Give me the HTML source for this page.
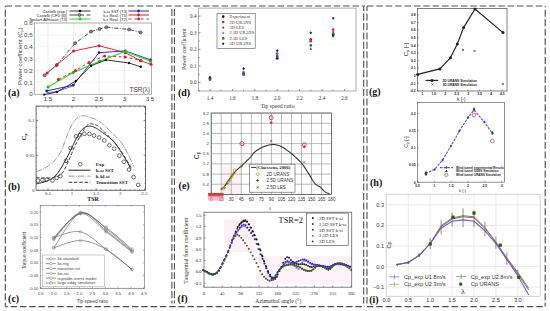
<!DOCTYPE html>
<html><head><meta charset="utf-8"><style>
html,body{margin:0;padding:0;background:#fff;}
body{width:550px;height:311px;overflow:hidden;}
svg{display:block;}
</style></head><body>
<svg width="550" height="311" viewBox="0 0 550 311">
<rect x="0" y="0" width="550" height="311" fill="#fff"/>
<line x1="5.3" y1="6" x2="172.0" y2="6" stroke="#505050" stroke-width="1.15" stroke-dasharray="6.5 2.9" stroke-dashoffset="9.20"/>
<line x1="172.0" y1="6" x2="365.0" y2="6" stroke="#505050" stroke-width="1.15" stroke-dasharray="6.5 2.85" stroke-dashoffset="6.55"/>
<line x1="365.0" y1="6" x2="545.2" y2="6" stroke="#505050" stroke-width="1.15" stroke-dasharray="6.5 2.88" stroke-dashoffset="7.38"/>
<line x1="5.3" y1="306.6" x2="176.0" y2="306.6" stroke="#505050" stroke-width="1.15" stroke-dasharray="6.5 2.83" stroke-dashoffset="4.03"/>
<line x1="176.0" y1="306.6" x2="365.0" y2="306.6" stroke="#505050" stroke-width="1.15" stroke-dasharray="6.5 2.83" stroke-dashoffset="7.13"/>
<line x1="365.0" y1="306.6" x2="545.2" y2="306.6" stroke="#505050" stroke-width="1.15" stroke-dasharray="6.5 2.91" stroke-dashoffset="7.51"/>
<line x1="5.3" y1="6" x2="5.3" y2="306.6" stroke="#505050" stroke-width="1.15" stroke-dasharray="7 2.45" stroke-dashoffset="5.65"/>
<line x1="545.2" y1="6" x2="545.2" y2="306.6" stroke="#505050" stroke-width="1.15" stroke-dasharray="7 2.45" stroke-dashoffset="5.65"/>
<line x1="171.9" y1="8.4" x2="171.9" y2="303.6" stroke="#505050" stroke-width="1.1" stroke-dasharray="6.8 2.6" stroke-dashoffset="8.70"/>
<line x1="174.4" y1="8.4" x2="174.4" y2="303.6" stroke="#505050" stroke-width="1.1" stroke-dasharray="6.8 2.6" stroke-dashoffset="8.70"/>
<line x1="363.7" y1="6.5" x2="363.7" y2="303.6" stroke="#505050" stroke-width="1.1" stroke-dasharray="7 2.45" stroke-dashoffset="2.45"/>
<line x1="367.0" y1="6" x2="367.0" y2="303.6" stroke="#505050" stroke-width="1.1" stroke-dasharray="7 2.45" stroke-dashoffset="1.95"/>
<line x1="48.00" y1="23.00" x2="48.00" y2="94.30" stroke="#e6e6e6" stroke-width="0.7" />
<line x1="73.50" y1="23.00" x2="73.50" y2="94.30" stroke="#e6e6e6" stroke-width="0.7" />
<line x1="99.00" y1="23.00" x2="99.00" y2="94.30" stroke="#e6e6e6" stroke-width="0.7" />
<line x1="124.50" y1="23.00" x2="124.50" y2="94.30" stroke="#e6e6e6" stroke-width="0.7" />
<line x1="34.30" y1="82.35" x2="151.40" y2="82.35" stroke="#efefef" stroke-width="0.7" />
<line x1="34.30" y1="70.50" x2="151.40" y2="70.50" stroke="#efefef" stroke-width="0.7" />
<line x1="34.30" y1="58.65" x2="151.40" y2="58.65" stroke="#efefef" stroke-width="0.7" />
<line x1="34.30" y1="46.80" x2="151.40" y2="46.80" stroke="#efefef" stroke-width="0.7" />
<line x1="34.30" y1="34.95" x2="151.40" y2="34.95" stroke="#efefef" stroke-width="0.7" />
<rect x="34.30" y="23.00" width="117.10" height="71.30" stroke="#9a9a9a" stroke-width="0.8" fill="none" />
<text x="32.60" y="96.40" font-size="6.2" fill="#444" text-anchor="end" font-family='"Liberation Sans", sans-serif' font-weight="normal" >0</text>
<text x="32.60" y="84.55" font-size="6.2" fill="#444" text-anchor="end" font-family='"Liberation Sans", sans-serif' font-weight="normal" >0.1</text>
<text x="32.60" y="72.70" font-size="6.2" fill="#444" text-anchor="end" font-family='"Liberation Sans", sans-serif' font-weight="normal" >0.2</text>
<text x="32.60" y="60.85" font-size="6.2" fill="#444" text-anchor="end" font-family='"Liberation Sans", sans-serif' font-weight="normal" >0.3</text>
<text x="32.60" y="49.00" font-size="6.2" fill="#444" text-anchor="end" font-family='"Liberation Sans", sans-serif' font-weight="normal" >0.4</text>
<text x="32.60" y="37.15" font-size="6.2" fill="#444" text-anchor="end" font-family='"Liberation Sans", sans-serif' font-weight="normal" >0.5</text>
<text x="32.60" y="25.30" font-size="6.2" fill="#444" text-anchor="end" font-family='"Liberation Sans", sans-serif' font-weight="normal" >0.6</text>
<text x="48.00" y="101.20" font-size="6.2" fill="#444" text-anchor="middle" font-family='"Liberation Sans", sans-serif' font-weight="normal" >1.5</text>
<text x="73.50" y="101.20" font-size="6.2" fill="#444" text-anchor="middle" font-family='"Liberation Sans", sans-serif' font-weight="normal" >2</text>
<text x="99.00" y="101.20" font-size="6.2" fill="#444" text-anchor="middle" font-family='"Liberation Sans", sans-serif' font-weight="normal" >2.5</text>
<text x="124.50" y="101.20" font-size="6.2" fill="#444" text-anchor="middle" font-family='"Liberation Sans", sans-serif' font-weight="normal" >3</text>
<text x="150.00" y="101.20" font-size="6.2" fill="#444" text-anchor="middle" font-family='"Liberation Sans", sans-serif' font-weight="normal" >3.5</text>
<text x="21.70" y="56.20" font-size="6.0" fill="#444" text-anchor="middle" font-family='"Liberation Sans", sans-serif' font-weight="normal" transform="rotate(-90 21.700000000000003 56.2)" >Power coefficient (C<tspan font-size="4" dy="1">p</tspan><tspan dy="-1">)</tspan></text>
<text x="150.00" y="92.00" font-size="6.5" fill="#444" text-anchor="end" font-family='"Liberation Sans", sans-serif' font-weight="normal" >TSR(λ)</text>
<text x="8.00" y="95.90" font-size="10" fill="#111" text-anchor="start" font-family='"Liberation Serif", serif' font-weight="bold" >(a)</text>
<text x="67.20" y="12.50" font-size="4.0" fill="#222" text-anchor="end" font-family='"Liberation Sans", sans-serif' font-weight="normal" >Castelli (exp.)</text>
<text x="67.20" y="16.50" font-size="4.0" fill="#222" text-anchor="end" font-family='"Liberation Sans", sans-serif' font-weight="normal" >Castelli (CFD [6])</text>
<text x="67.20" y="20.50" font-size="4.0" fill="#222" text-anchor="end" font-family='"Liberation Sans", sans-serif' font-weight="normal" >Spalart-Allmaras (T3)</text>
<line x1="69.50" y1="11.00" x2="90.50" y2="11.00" stroke="#222" stroke-width="0.9" />
<circle cx="80.00" cy="11.00" r="1.3" fill="#111" stroke="none" stroke-width="1"/>
<line x1="69.50" y1="15.00" x2="84.00" y2="15.00" stroke="#333" stroke-width="0.9" />
<line x1="86.50" y1="15.00" x2="90.50" y2="15.00" stroke="#333" stroke-width="0.9" />
<circle cx="79.50" cy="15.00" r="1.4" fill="#999" stroke="#333" stroke-width="0.6"/>
<line x1="69.50" y1="19.00" x2="90.50" y2="19.00" stroke="#3bdc3b" stroke-width="1.1" />
<circle cx="80.00" cy="19.00" r="1.4" fill="#22cc22" stroke="none" stroke-width="1"/>
<text x="127.20" y="12.50" font-size="4.0" fill="#222" text-anchor="end" font-family='"Liberation Sans", sans-serif' font-weight="normal" >k-ω SST (T3)</text>
<text x="127.20" y="16.50" font-size="4.0" fill="#222" text-anchor="end" font-family='"Liberation Sans", sans-serif' font-weight="normal" >k-ε Real. (T3)</text>
<text x="127.20" y="20.50" font-size="4.0" fill="#222" text-anchor="end" font-family='"Liberation Sans", sans-serif' font-weight="normal" >k-ε Real. (T2)</text>
<line x1="128.50" y1="11.00" x2="149.00" y2="11.00" stroke="#3a3ad0" stroke-width="1.1" />
<circle cx="138.60" cy="11.00" r="1.4" fill="#2222bb" stroke="none" stroke-width="1"/>
<line x1="128.50" y1="15.00" x2="149.00" y2="15.00" stroke="#e8283c" stroke-width="1.1" />
<circle cx="138.60" cy="15.00" r="1.4" fill="#e01830" stroke="none" stroke-width="1"/>
<line x1="128.50" y1="19.00" x2="149.00" y2="19.00" stroke="#e8283c" stroke-width="1.1" stroke-dasharray="3 3" />
<circle cx="138.60" cy="19.00" r="1.4" fill="#e01830" stroke="none" stroke-width="1"/>
<polyline points="44.60,75.20 56.80,65.00 75.10,43.20 91.00,31.60 99.50,29.00 106.40,27.20 129.00,29.50 140.70,32.40" stroke="#333" stroke-width="0.9" fill="none" stroke-dasharray="4 1.5 1 1.5" stroke-linejoin="round" />
<circle cx="44.60" cy="75.20" r="1.5" fill="#888" stroke="#333" stroke-width="0.6"/>
<circle cx="56.80" cy="65.00" r="1.5" fill="#888" stroke="#333" stroke-width="0.6"/>
<circle cx="75.10" cy="43.20" r="1.5" fill="#888" stroke="#333" stroke-width="0.6"/>
<circle cx="91.00" cy="31.60" r="1.5" fill="#888" stroke="#333" stroke-width="0.6"/>
<circle cx="99.50" cy="29.00" r="1.5" fill="#888" stroke="#333" stroke-width="0.6"/>
<circle cx="106.40" cy="27.20" r="1.5" fill="#888" stroke="#333" stroke-width="0.6"/>
<circle cx="129.00" cy="29.50" r="1.5" fill="#888" stroke="#333" stroke-width="0.6"/>
<circle cx="140.70" cy="32.40" r="1.5" fill="#888" stroke="#333" stroke-width="0.6"/>
<polyline points="47.20,72.90 56.80,65.00 73.50,51.10 99.00,45.70 125.20,52.70 140.70,60.70 151.00,64.30" stroke="#e8283c" stroke-width="1.0" fill="none" stroke-linejoin="round" />
<circle cx="47.20" cy="72.90" r="1.5" fill="#e01830" stroke="none" stroke-width="1"/>
<circle cx="56.80" cy="65.00" r="1.5" fill="#e01830" stroke="none" stroke-width="1"/>
<circle cx="73.50" cy="51.10" r="1.5" fill="#e01830" stroke="none" stroke-width="1"/>
<circle cx="99.00" cy="45.70" r="1.5" fill="#e01830" stroke="none" stroke-width="1"/>
<circle cx="125.20" cy="52.70" r="1.5" fill="#e01830" stroke="none" stroke-width="1"/>
<circle cx="140.70" cy="60.70" r="1.5" fill="#e01830" stroke="none" stroke-width="1"/>
<circle cx="151.00" cy="64.30" r="1.5" fill="#e01830" stroke="none" stroke-width="1"/>
<polyline points="46.70,92.60 56.70,91.70 73.30,85.80" stroke="#4848d0" stroke-width="0.8" fill="none" stroke-linejoin="round" />
<polyline points="46.70,90.90 73.30,85.20 99.00,52.70 125.20,50.90 150.50,59.90" stroke="#3030c8" stroke-width="1.0" fill="none" stroke-linejoin="round" />
<circle cx="46.70" cy="90.90" r="1.4" fill="#2222bb" stroke="none" stroke-width="1"/>
<circle cx="73.30" cy="85.20" r="1.4" fill="#2222bb" stroke="none" stroke-width="1"/>
<circle cx="99.00" cy="52.70" r="1.4" fill="#2222bb" stroke="none" stroke-width="1"/>
<circle cx="125.20" cy="50.90" r="1.4" fill="#2222bb" stroke="none" stroke-width="1"/>
<circle cx="150.50" cy="59.90" r="1.4" fill="#2222bb" stroke="none" stroke-width="1"/>
<polyline points="48.00,87.00 73.20,72.60 99.50,61.20 125.20,51.40 150.50,61.20" stroke="#33dd33" stroke-width="1.2" fill="none" stroke-linejoin="round" />
<circle cx="48.00" cy="87.00" r="1.5" fill="#11bb11" stroke="none" stroke-width="1"/>
<circle cx="73.20" cy="72.60" r="1.5" fill="#11bb11" stroke="none" stroke-width="1"/>
<circle cx="99.50" cy="61.20" r="1.5" fill="#11bb11" stroke="none" stroke-width="1"/>
<circle cx="125.20" cy="51.40" r="1.5" fill="#11bb11" stroke="none" stroke-width="1"/>
<circle cx="150.50" cy="61.20" r="1.5" fill="#11bb11" stroke="none" stroke-width="1"/>
<polyline points="44.20,94.60 57.00,92.00 75.80,81.00 91.00,65.80 106.00,59.90 129.00,63.00 140.70,66.80" stroke="#222" stroke-width="0.9" fill="none" stroke-linejoin="round" />
<circle cx="44.20" cy="94.60" r="1.2" fill="#111" stroke="none" stroke-width="1"/>
<circle cx="57.00" cy="92.00" r="1.2" fill="#111" stroke="none" stroke-width="1"/>
<circle cx="75.80" cy="81.00" r="1.2" fill="#111" stroke="none" stroke-width="1"/>
<circle cx="91.00" cy="65.80" r="1.2" fill="#111" stroke="none" stroke-width="1"/>
<circle cx="106.00" cy="59.90" r="1.2" fill="#111" stroke="none" stroke-width="1"/>
<circle cx="129.00" cy="63.00" r="1.2" fill="#111" stroke="none" stroke-width="1"/>
<circle cx="140.70" cy="66.80" r="1.2" fill="#111" stroke="none" stroke-width="1"/>
<polyline points="58.30,79.40 75.50,70.50 89.00,62.40 104.60,56.00 125.00,57.00 140.70,60.40" stroke="#e8283c" stroke-width="1.0" fill="none" stroke-dasharray="3 2.5" stroke-linejoin="round" />
<circle cx="58.30" cy="79.40" r="1.5" fill="#e01830" stroke="none" stroke-width="1"/>
<circle cx="75.50" cy="70.50" r="1.5" fill="#e01830" stroke="none" stroke-width="1"/>
<circle cx="89.00" cy="62.40" r="1.5" fill="#e01830" stroke="none" stroke-width="1"/>
<circle cx="104.60" cy="56.00" r="1.5" fill="#e01830" stroke="none" stroke-width="1"/>
<circle cx="125.00" cy="57.00" r="1.5" fill="#e01830" stroke="none" stroke-width="1"/>
<circle cx="140.70" cy="60.40" r="1.5" fill="#e01830" stroke="none" stroke-width="1"/>
<rect x="36.10" y="106.10" width="109.40" height="84.20" stroke="#5a5a5a" stroke-width="0.9" fill="none" />
<line x1="48.00" y1="190.30" x2="48.00" y2="188.30" stroke="#333" stroke-width="0.6" />
<line x1="48.00" y1="106.10" x2="48.00" y2="108.10" stroke="#333" stroke-width="0.6" />
<line x1="72.10" y1="190.30" x2="72.10" y2="188.30" stroke="#333" stroke-width="0.6" />
<line x1="72.10" y1="106.10" x2="72.10" y2="108.10" stroke="#333" stroke-width="0.6" />
<line x1="96.20" y1="190.30" x2="96.20" y2="188.30" stroke="#333" stroke-width="0.6" />
<line x1="96.20" y1="106.10" x2="96.20" y2="108.10" stroke="#333" stroke-width="0.6" />
<line x1="120.30" y1="190.30" x2="120.30" y2="188.30" stroke="#333" stroke-width="0.6" />
<line x1="120.30" y1="106.10" x2="120.30" y2="108.10" stroke="#333" stroke-width="0.6" />
<line x1="144.40" y1="190.30" x2="144.40" y2="188.30" stroke="#333" stroke-width="0.6" />
<line x1="144.40" y1="106.10" x2="144.40" y2="108.10" stroke="#333" stroke-width="0.6" />
<line x1="36.10" y1="155.30" x2="38.10" y2="155.30" stroke="#333" stroke-width="0.6" />
<line x1="145.50" y1="155.30" x2="143.50" y2="155.30" stroke="#333" stroke-width="0.6" />
<line x1="36.10" y1="120.60" x2="38.10" y2="120.60" stroke="#333" stroke-width="0.6" />
<line x1="145.50" y1="120.60" x2="143.50" y2="120.60" stroke="#333" stroke-width="0.6" />
<line x1="38.36" y1="190.30" x2="38.36" y2="189.20" stroke="#444" stroke-width="0.5" />
<line x1="38.36" y1="106.10" x2="38.36" y2="107.20" stroke="#444" stroke-width="0.5" />
<line x1="43.18" y1="190.30" x2="43.18" y2="189.20" stroke="#444" stroke-width="0.5" />
<line x1="43.18" y1="106.10" x2="43.18" y2="107.20" stroke="#444" stroke-width="0.5" />
<line x1="52.82" y1="190.30" x2="52.82" y2="189.20" stroke="#444" stroke-width="0.5" />
<line x1="52.82" y1="106.10" x2="52.82" y2="107.20" stroke="#444" stroke-width="0.5" />
<line x1="57.64" y1="190.30" x2="57.64" y2="189.20" stroke="#444" stroke-width="0.5" />
<line x1="57.64" y1="106.10" x2="57.64" y2="107.20" stroke="#444" stroke-width="0.5" />
<line x1="62.46" y1="190.30" x2="62.46" y2="189.20" stroke="#444" stroke-width="0.5" />
<line x1="62.46" y1="106.10" x2="62.46" y2="107.20" stroke="#444" stroke-width="0.5" />
<line x1="67.28" y1="190.30" x2="67.28" y2="189.20" stroke="#444" stroke-width="0.5" />
<line x1="67.28" y1="106.10" x2="67.28" y2="107.20" stroke="#444" stroke-width="0.5" />
<line x1="76.92" y1="190.30" x2="76.92" y2="189.20" stroke="#444" stroke-width="0.5" />
<line x1="76.92" y1="106.10" x2="76.92" y2="107.20" stroke="#444" stroke-width="0.5" />
<line x1="81.74" y1="190.30" x2="81.74" y2="189.20" stroke="#444" stroke-width="0.5" />
<line x1="81.74" y1="106.10" x2="81.74" y2="107.20" stroke="#444" stroke-width="0.5" />
<line x1="86.56" y1="190.30" x2="86.56" y2="189.20" stroke="#444" stroke-width="0.5" />
<line x1="86.56" y1="106.10" x2="86.56" y2="107.20" stroke="#444" stroke-width="0.5" />
<line x1="91.38" y1="190.30" x2="91.38" y2="189.20" stroke="#444" stroke-width="0.5" />
<line x1="91.38" y1="106.10" x2="91.38" y2="107.20" stroke="#444" stroke-width="0.5" />
<line x1="101.02" y1="190.30" x2="101.02" y2="189.20" stroke="#444" stroke-width="0.5" />
<line x1="101.02" y1="106.10" x2="101.02" y2="107.20" stroke="#444" stroke-width="0.5" />
<line x1="105.84" y1="190.30" x2="105.84" y2="189.20" stroke="#444" stroke-width="0.5" />
<line x1="105.84" y1="106.10" x2="105.84" y2="107.20" stroke="#444" stroke-width="0.5" />
<line x1="110.66" y1="190.30" x2="110.66" y2="189.20" stroke="#444" stroke-width="0.5" />
<line x1="110.66" y1="106.10" x2="110.66" y2="107.20" stroke="#444" stroke-width="0.5" />
<line x1="115.48" y1="190.30" x2="115.48" y2="189.20" stroke="#444" stroke-width="0.5" />
<line x1="115.48" y1="106.10" x2="115.48" y2="107.20" stroke="#444" stroke-width="0.5" />
<line x1="125.12" y1="190.30" x2="125.12" y2="189.20" stroke="#444" stroke-width="0.5" />
<line x1="125.12" y1="106.10" x2="125.12" y2="107.20" stroke="#444" stroke-width="0.5" />
<line x1="129.94" y1="190.30" x2="129.94" y2="189.20" stroke="#444" stroke-width="0.5" />
<line x1="129.94" y1="106.10" x2="129.94" y2="107.20" stroke="#444" stroke-width="0.5" />
<line x1="134.76" y1="190.30" x2="134.76" y2="189.20" stroke="#444" stroke-width="0.5" />
<line x1="134.76" y1="106.10" x2="134.76" y2="107.20" stroke="#444" stroke-width="0.5" />
<line x1="139.58" y1="190.30" x2="139.58" y2="189.20" stroke="#444" stroke-width="0.5" />
<line x1="139.58" y1="106.10" x2="139.58" y2="107.20" stroke="#444" stroke-width="0.5" />
<line x1="36.10" y1="183.06" x2="37.20" y2="183.06" stroke="#444" stroke-width="0.5" />
<line x1="145.50" y1="183.06" x2="144.40" y2="183.06" stroke="#444" stroke-width="0.5" />
<line x1="36.10" y1="176.12" x2="37.20" y2="176.12" stroke="#444" stroke-width="0.5" />
<line x1="145.50" y1="176.12" x2="144.40" y2="176.12" stroke="#444" stroke-width="0.5" />
<line x1="36.10" y1="169.18" x2="37.20" y2="169.18" stroke="#444" stroke-width="0.5" />
<line x1="145.50" y1="169.18" x2="144.40" y2="169.18" stroke="#444" stroke-width="0.5" />
<line x1="36.10" y1="162.24" x2="37.20" y2="162.24" stroke="#444" stroke-width="0.5" />
<line x1="145.50" y1="162.24" x2="144.40" y2="162.24" stroke="#444" stroke-width="0.5" />
<line x1="36.10" y1="148.36" x2="37.20" y2="148.36" stroke="#444" stroke-width="0.5" />
<line x1="145.50" y1="148.36" x2="144.40" y2="148.36" stroke="#444" stroke-width="0.5" />
<line x1="36.10" y1="141.42" x2="37.20" y2="141.42" stroke="#444" stroke-width="0.5" />
<line x1="145.50" y1="141.42" x2="144.40" y2="141.42" stroke="#444" stroke-width="0.5" />
<line x1="36.10" y1="134.48" x2="37.20" y2="134.48" stroke="#444" stroke-width="0.5" />
<line x1="145.50" y1="134.48" x2="144.40" y2="134.48" stroke="#444" stroke-width="0.5" />
<line x1="36.10" y1="127.54" x2="37.20" y2="127.54" stroke="#444" stroke-width="0.5" />
<line x1="145.50" y1="127.54" x2="144.40" y2="127.54" stroke="#444" stroke-width="0.5" />
<line x1="36.10" y1="113.66" x2="37.20" y2="113.66" stroke="#444" stroke-width="0.5" />
<line x1="145.50" y1="113.66" x2="144.40" y2="113.66" stroke="#444" stroke-width="0.5" />
<text x="48.00" y="195.20" font-size="5" fill="#333" text-anchor="middle" font-family='"Liberation Serif", serif' font-weight="normal" >0.5</text>
<text x="72.10" y="195.20" font-size="5" fill="#333" text-anchor="middle" font-family='"Liberation Serif", serif' font-weight="normal" >1</text>
<text x="96.20" y="195.20" font-size="5" fill="#333" text-anchor="middle" font-family='"Liberation Serif", serif' font-weight="normal" >1.5</text>
<text x="120.30" y="195.20" font-size="5" fill="#333" text-anchor="middle" font-family='"Liberation Serif", serif' font-weight="normal" >2</text>
<text x="144.40" y="195.20" font-size="5" fill="#333" text-anchor="middle" font-family='"Liberation Serif", serif' font-weight="normal" >2.5</text>
<text x="34.60" y="191.80" font-size="5" fill="#333" text-anchor="end" font-family='"Liberation Serif", serif' font-weight="normal" >0</text>
<text x="34.60" y="157.10" font-size="5" fill="#333" text-anchor="end" font-family='"Liberation Serif", serif' font-weight="normal" >0.05</text>
<text x="34.60" y="122.40" font-size="5" fill="#333" text-anchor="end" font-family='"Liberation Serif", serif' font-weight="normal" >0.1</text>
<text x="93.00" y="200.50" font-size="6" fill="#222" text-anchor="middle" font-family='"Liberation Serif", serif' font-weight="bold" >TSR</text>
<text x="25.50" y="137.00" font-size="7" fill="#222" text-anchor="middle" font-family='"Liberation Serif", serif' font-weight="bold" transform="rotate(-90 25.5 137)" >C<tspan font-size="3.5" dy="1">p</tspan></text>
<text x="7.90" y="189.90" font-size="10" fill="#111" text-anchor="start" font-family='"Liberation Serif", serif' font-weight="bold" >(b)</text>
<polyline points="36.10,171.60 36.66,171.41 37.38,171.19 38.23,170.93 39.19,170.62 40.23,170.26 41.31,169.84 42.41,169.36 43.50,168.80 44.62,168.18 45.81,167.49 47.06,166.74 48.33,165.94 49.61,165.07 50.86,164.14 52.07,163.15 53.20,162.10 54.28,160.98 55.33,159.77 56.36,158.50 57.36,157.17 58.31,155.79 59.23,154.38 60.09,152.95 60.90,151.50 61.63,150.03 62.28,148.51 62.87,146.96 63.42,145.38 63.95,143.78 64.50,142.16 65.07,140.53 65.70,138.90 66.38,137.21 67.10,135.43 67.85,133.60 68.60,131.78 69.35,130.00 70.10,128.32 70.82,126.77 71.50,125.40 72.14,124.21 72.75,123.16 73.33,122.22 73.90,121.39 74.47,120.64 75.05,119.95 75.66,119.31 76.30,118.70 76.98,118.13 77.68,117.62 78.40,117.16 79.14,116.77 79.88,116.43 80.63,116.16 81.37,115.95 82.10,115.80 82.79,115.72 83.43,115.70 84.06,115.75 84.69,115.86 85.36,116.03 86.10,116.24 86.94,116.50 87.90,116.80 89.01,117.13 90.25,117.48 91.59,117.88 93.00,118.32 94.44,118.84 95.90,119.43 97.33,120.11 98.70,120.90 100.03,121.81 101.35,122.84 102.66,123.96 103.97,125.16 105.29,126.41 106.61,127.70 107.95,129.00 109.30,130.30 110.70,131.61 112.16,132.97 113.65,134.36 115.14,135.78 116.60,137.21 118.00,138.65 119.31,140.08 120.50,141.50 121.57,142.91 122.54,144.32 123.42,145.73 124.25,147.15 125.03,148.57 125.79,149.98 126.54,151.39 127.30,152.80 128.09,154.26 128.89,155.79 129.68,157.35 130.44,158.89 131.17,160.38 131.83,161.75 132.41,162.97 132.90,164.00 133.28,164.82 133.56,165.48 133.76,166.00 133.90,166.40 134.00,166.72 134.07,166.97 134.13,167.19 134.20,167.40" stroke="#8a8a8a" stroke-width="0.9" fill="none" stroke-dasharray="6 1.2 1 1.2" stroke-linejoin="round" />
<polyline points="36.10,184.00 37.04,183.76 38.31,183.47 39.82,183.12 41.49,182.72 43.23,182.27 44.95,181.76 46.57,181.21 48.00,180.60 49.26,179.97 50.45,179.34 51.59,178.68 52.68,177.95 53.75,177.14 54.82,176.21 55.89,175.14 57.00,173.90 58.14,172.45 59.30,170.78 60.47,168.96 61.64,167.03 62.79,165.04 63.90,163.06 64.98,161.13 66.00,159.30 66.96,157.54 67.88,155.80 68.76,154.06 69.61,152.34 70.43,150.65 71.24,148.99 72.02,147.37 72.80,145.80 73.56,144.25 74.30,142.70 75.01,141.18 75.71,139.69 76.39,138.27 77.06,136.91 77.73,135.65 78.40,134.50 79.06,133.45 79.70,132.50 80.33,131.62 80.96,130.83 81.58,130.10 82.21,129.44 82.85,128.84 83.50,128.30 84.16,127.82 84.84,127.40 85.51,127.06 86.19,126.78 86.88,126.55 87.58,126.38 88.29,126.27 89.00,126.20 89.72,126.18 90.43,126.22 91.15,126.31 91.88,126.46 92.62,126.66 93.38,126.92 94.17,127.23 95.00,127.60 95.84,128.02 96.68,128.48 97.54,129.00 98.42,129.57 99.34,130.21 100.32,130.90 101.37,131.67 102.50,132.50 103.75,133.41 105.14,134.41 106.61,135.47 108.13,136.60 109.65,137.78 111.13,138.99 112.53,140.24 113.80,141.50 114.95,142.80 116.02,144.17 117.03,145.57 117.98,147.01 118.90,148.47 119.80,149.93 120.70,151.38 121.60,152.80 122.53,154.24 123.48,155.74 124.43,157.25 125.35,158.76 126.23,160.21 127.05,161.60 127.78,162.87 128.40,164.00 128.91,165.01 129.33,165.92 129.66,166.76 129.93,167.50 130.14,168.16 130.31,168.72 130.46,169.21 130.60,169.60" stroke="#222" stroke-width="1.0" fill="none" stroke-linejoin="round" />
<polyline points="36.10,177.70 36.66,177.72 37.39,177.75 38.26,177.78 39.24,177.81 40.28,177.85 41.36,177.87 42.45,177.89 43.50,177.90 44.55,177.92 45.64,177.96 46.76,178.01 47.90,178.05 49.05,178.06 50.21,178.01 51.36,177.90 52.50,177.70 53.64,177.46 54.80,177.20 55.97,176.92 57.14,176.56 58.29,176.11 59.40,175.54 60.48,174.81 61.50,173.90 62.46,172.78 63.36,171.48 64.22,170.02 65.04,168.44 65.85,166.77 66.66,165.03 67.47,163.27 68.30,161.50 69.14,159.67 69.98,157.73 70.82,155.71 71.65,153.65 72.48,151.59 73.32,149.57 74.16,147.63 75.00,145.80 75.86,144.05 76.75,142.34 77.66,140.67 78.56,139.05 79.44,137.50 80.28,136.04 81.07,134.66 81.80,133.40 82.45,132.24 83.04,131.19 83.57,130.22 84.07,129.33 84.55,128.52 85.02,127.79 85.50,127.11 86.00,126.50 86.51,125.96 87.01,125.49 87.51,125.10 88.01,124.78 88.51,124.52 89.02,124.30 89.55,124.13 90.10,124.00 90.67,123.91 91.26,123.87 91.86,123.87 92.47,123.93 93.10,124.03 93.73,124.18 94.36,124.37 95.00,124.60 95.60,124.84 96.16,125.07 96.70,125.32 97.26,125.63 97.86,126.02 98.55,126.53 99.35,127.18 100.30,128.00 101.43,129.04 102.74,130.27 104.16,131.66 105.67,133.16 107.20,134.72 108.72,136.30 110.16,137.84 111.50,139.30 112.74,140.70 113.93,142.08 115.08,143.45 116.21,144.83 117.30,146.22 118.38,147.62 119.44,149.04 120.50,150.50 121.57,152.04 122.66,153.66 123.74,155.34 124.80,157.02 125.82,158.66 126.77,160.21 127.64,161.64 128.40,162.90 129.06,164.01 129.65,165.01 130.15,165.92 130.59,166.73 130.97,167.44 131.29,168.05 131.57,168.57 131.80,169.00" stroke="#333" stroke-width="1.0" fill="none" stroke-dasharray="3.5 1.8" stroke-linejoin="round" />
<circle cx="37.90" cy="180.60" r="1.85" fill="none" stroke="#444" stroke-width="0.8"/>
<circle cx="42.40" cy="180.00" r="1.85" fill="none" stroke="#444" stroke-width="0.8"/>
<circle cx="46.90" cy="179.50" r="1.85" fill="none" stroke="#444" stroke-width="0.8"/>
<circle cx="52.50" cy="180.60" r="1.85" fill="none" stroke="#444" stroke-width="0.8"/>
<circle cx="56.60" cy="177.90" r="1.85" fill="none" stroke="#444" stroke-width="0.8"/>
<circle cx="60.40" cy="176.10" r="1.85" fill="none" stroke="#444" stroke-width="0.8"/>
<circle cx="66.00" cy="160.80" r="1.85" fill="none" stroke="#444" stroke-width="0.8"/>
<circle cx="70.50" cy="148.00" r="1.85" fill="none" stroke="#444" stroke-width="0.8"/>
<circle cx="76.10" cy="136.30" r="1.85" fill="none" stroke="#444" stroke-width="0.8"/>
<circle cx="80.00" cy="135.20" r="1.85" fill="none" stroke="#444" stroke-width="0.8"/>
<circle cx="84.50" cy="133.80" r="1.85" fill="none" stroke="#444" stroke-width="0.8"/>
<circle cx="89.50" cy="134.00" r="1.85" fill="none" stroke="#444" stroke-width="0.8"/>
<circle cx="94.00" cy="135.60" r="1.85" fill="none" stroke="#444" stroke-width="0.8"/>
<circle cx="99.10" cy="137.50" r="1.85" fill="none" stroke="#444" stroke-width="0.8"/>
<circle cx="104.30" cy="140.40" r="1.85" fill="none" stroke="#444" stroke-width="0.8"/>
<circle cx="109.30" cy="145.30" r="1.85" fill="none" stroke="#444" stroke-width="0.8"/>
<circle cx="114.20" cy="148.70" r="1.85" fill="none" stroke="#444" stroke-width="0.8"/>
<circle cx="119.40" cy="155.70" r="1.85" fill="none" stroke="#444" stroke-width="0.8"/>
<circle cx="123.90" cy="161.80" r="1.85" fill="none" stroke="#444" stroke-width="0.8"/>
<circle cx="129.00" cy="169.60" r="1.85" fill="none" stroke="#444" stroke-width="0.8"/>
<circle cx="133.60" cy="177.10" r="1.85" fill="none" stroke="#444" stroke-width="0.8"/>
<circle cx="138.20" cy="184.90" r="1.85" fill="none" stroke="#444" stroke-width="0.8"/>
<circle cx="80.20" cy="164.20" r="1.85" fill="none" stroke="#444" stroke-width="0.8"/>
<line x1="68.60" y1="170.20" x2="90.50" y2="170.20" stroke="#222" stroke-width="1.0" />
<line x1="68.60" y1="176.10" x2="90.50" y2="176.10" stroke="#8a8a8a" stroke-width="0.9" stroke-dasharray="6 1.2 1 1.2" />
<line x1="68.60" y1="182.30" x2="90.50" y2="182.30" stroke="#333" stroke-width="1.0" stroke-dasharray="3.5 1.8" />
<text x="95.70" y="166.00" font-size="5.0" fill="#222" text-anchor="start" font-family='"Liberation Serif", serif' font-weight="bold" >Exp</text>
<text x="95.70" y="171.90" font-size="5.0" fill="#222" text-anchor="start" font-family='"Liberation Serif", serif' font-weight="bold" >k-ω SST</text>
<text x="95.70" y="177.80" font-size="5.0" fill="#222" text-anchor="start" font-family='"Liberation Serif", serif' font-weight="bold" >k-kl-ω</text>
<text x="95.70" y="184.00" font-size="5.0" fill="#222" text-anchor="start" font-family='"Liberation Serif", serif' font-weight="bold" >Transition SST</text>
<rect x="40.20" y="205.30" width="104.10" height="83.20" stroke="#666" stroke-width="0.6" fill="none" />
<line x1="40.80" y1="288.50" x2="40.80" y2="287.00" stroke="#666" stroke-width="0.5" />
<line x1="40.80" y1="205.30" x2="40.80" y2="206.80" stroke="#666" stroke-width="0.5" />
<line x1="53.70" y1="288.50" x2="53.70" y2="287.00" stroke="#666" stroke-width="0.5" />
<line x1="53.70" y1="205.30" x2="53.70" y2="206.80" stroke="#666" stroke-width="0.5" />
<line x1="66.60" y1="288.50" x2="66.60" y2="287.00" stroke="#666" stroke-width="0.5" />
<line x1="66.60" y1="205.30" x2="66.60" y2="206.80" stroke="#666" stroke-width="0.5" />
<line x1="79.50" y1="288.50" x2="79.50" y2="287.00" stroke="#666" stroke-width="0.5" />
<line x1="79.50" y1="205.30" x2="79.50" y2="206.80" stroke="#666" stroke-width="0.5" />
<line x1="92.40" y1="288.50" x2="92.40" y2="287.00" stroke="#666" stroke-width="0.5" />
<line x1="92.40" y1="205.30" x2="92.40" y2="206.80" stroke="#666" stroke-width="0.5" />
<line x1="105.30" y1="288.50" x2="105.30" y2="287.00" stroke="#666" stroke-width="0.5" />
<line x1="105.30" y1="205.30" x2="105.30" y2="206.80" stroke="#666" stroke-width="0.5" />
<line x1="118.20" y1="288.50" x2="118.20" y2="287.00" stroke="#666" stroke-width="0.5" />
<line x1="118.20" y1="205.30" x2="118.20" y2="206.80" stroke="#666" stroke-width="0.5" />
<line x1="131.10" y1="288.50" x2="131.10" y2="287.00" stroke="#666" stroke-width="0.5" />
<line x1="131.10" y1="205.30" x2="131.10" y2="206.80" stroke="#666" stroke-width="0.5" />
<line x1="144.00" y1="288.50" x2="144.00" y2="287.00" stroke="#666" stroke-width="0.5" />
<line x1="144.00" y1="205.30" x2="144.00" y2="206.80" stroke="#666" stroke-width="0.5" />
<line x1="40.80" y1="288.50" x2="40.80" y2="287.60" stroke="#777" stroke-width="0.4" />
<line x1="43.38" y1="288.50" x2="43.38" y2="287.60" stroke="#777" stroke-width="0.4" />
<line x1="45.96" y1="288.50" x2="45.96" y2="287.60" stroke="#777" stroke-width="0.4" />
<line x1="48.54" y1="288.50" x2="48.54" y2="287.60" stroke="#777" stroke-width="0.4" />
<line x1="51.12" y1="288.50" x2="51.12" y2="287.60" stroke="#777" stroke-width="0.4" />
<line x1="53.70" y1="288.50" x2="53.70" y2="287.60" stroke="#777" stroke-width="0.4" />
<line x1="56.28" y1="288.50" x2="56.28" y2="287.60" stroke="#777" stroke-width="0.4" />
<line x1="58.86" y1="288.50" x2="58.86" y2="287.60" stroke="#777" stroke-width="0.4" />
<line x1="61.44" y1="288.50" x2="61.44" y2="287.60" stroke="#777" stroke-width="0.4" />
<line x1="64.02" y1="288.50" x2="64.02" y2="287.60" stroke="#777" stroke-width="0.4" />
<line x1="66.60" y1="288.50" x2="66.60" y2="287.60" stroke="#777" stroke-width="0.4" />
<line x1="69.18" y1="288.50" x2="69.18" y2="287.60" stroke="#777" stroke-width="0.4" />
<line x1="71.76" y1="288.50" x2="71.76" y2="287.60" stroke="#777" stroke-width="0.4" />
<line x1="74.34" y1="288.50" x2="74.34" y2="287.60" stroke="#777" stroke-width="0.4" />
<line x1="76.92" y1="288.50" x2="76.92" y2="287.60" stroke="#777" stroke-width="0.4" />
<line x1="79.50" y1="288.50" x2="79.50" y2="287.60" stroke="#777" stroke-width="0.4" />
<line x1="82.08" y1="288.50" x2="82.08" y2="287.60" stroke="#777" stroke-width="0.4" />
<line x1="84.66" y1="288.50" x2="84.66" y2="287.60" stroke="#777" stroke-width="0.4" />
<line x1="87.24" y1="288.50" x2="87.24" y2="287.60" stroke="#777" stroke-width="0.4" />
<line x1="89.82" y1="288.50" x2="89.82" y2="287.60" stroke="#777" stroke-width="0.4" />
<line x1="92.40" y1="288.50" x2="92.40" y2="287.60" stroke="#777" stroke-width="0.4" />
<line x1="94.98" y1="288.50" x2="94.98" y2="287.60" stroke="#777" stroke-width="0.4" />
<line x1="97.56" y1="288.50" x2="97.56" y2="287.60" stroke="#777" stroke-width="0.4" />
<line x1="100.14" y1="288.50" x2="100.14" y2="287.60" stroke="#777" stroke-width="0.4" />
<line x1="102.72" y1="288.50" x2="102.72" y2="287.60" stroke="#777" stroke-width="0.4" />
<line x1="105.30" y1="288.50" x2="105.30" y2="287.60" stroke="#777" stroke-width="0.4" />
<line x1="107.88" y1="288.50" x2="107.88" y2="287.60" stroke="#777" stroke-width="0.4" />
<line x1="110.46" y1="288.50" x2="110.46" y2="287.60" stroke="#777" stroke-width="0.4" />
<line x1="113.04" y1="288.50" x2="113.04" y2="287.60" stroke="#777" stroke-width="0.4" />
<line x1="115.62" y1="288.50" x2="115.62" y2="287.60" stroke="#777" stroke-width="0.4" />
<line x1="118.20" y1="288.50" x2="118.20" y2="287.60" stroke="#777" stroke-width="0.4" />
<line x1="120.78" y1="288.50" x2="120.78" y2="287.60" stroke="#777" stroke-width="0.4" />
<line x1="123.36" y1="288.50" x2="123.36" y2="287.60" stroke="#777" stroke-width="0.4" />
<line x1="125.94" y1="288.50" x2="125.94" y2="287.60" stroke="#777" stroke-width="0.4" />
<line x1="128.52" y1="288.50" x2="128.52" y2="287.60" stroke="#777" stroke-width="0.4" />
<line x1="131.10" y1="288.50" x2="131.10" y2="287.60" stroke="#777" stroke-width="0.4" />
<line x1="133.68" y1="288.50" x2="133.68" y2="287.60" stroke="#777" stroke-width="0.4" />
<line x1="136.26" y1="288.50" x2="136.26" y2="287.60" stroke="#777" stroke-width="0.4" />
<line x1="138.84" y1="288.50" x2="138.84" y2="287.60" stroke="#777" stroke-width="0.4" />
<line x1="141.42" y1="288.50" x2="141.42" y2="287.60" stroke="#777" stroke-width="0.4" />
<line x1="144.00" y1="288.50" x2="144.00" y2="287.60" stroke="#777" stroke-width="0.4" />
<line x1="40.20" y1="288.25" x2="41.70" y2="288.25" stroke="#666" stroke-width="0.5" />
<line x1="144.30" y1="288.25" x2="142.80" y2="288.25" stroke="#666" stroke-width="0.5" />
<text x="38.40" y="289.75" font-size="4.2" fill="#444" text-anchor="end" font-family='"Liberation Sans", sans-serif' font-weight="normal" >-0.10</text>
<line x1="40.20" y1="275.57" x2="41.70" y2="275.57" stroke="#666" stroke-width="0.5" />
<line x1="144.30" y1="275.57" x2="142.80" y2="275.57" stroke="#666" stroke-width="0.5" />
<text x="38.40" y="277.07" font-size="4.2" fill="#444" text-anchor="end" font-family='"Liberation Sans", sans-serif' font-weight="normal" >-0.05</text>
<line x1="40.20" y1="262.90" x2="41.70" y2="262.90" stroke="#666" stroke-width="0.5" />
<line x1="144.30" y1="262.90" x2="142.80" y2="262.90" stroke="#666" stroke-width="0.5" />
<text x="38.40" y="264.40" font-size="4.2" fill="#444" text-anchor="end" font-family='"Liberation Sans", sans-serif' font-weight="normal" >0.00</text>
<line x1="40.20" y1="250.22" x2="41.70" y2="250.22" stroke="#666" stroke-width="0.5" />
<line x1="144.30" y1="250.22" x2="142.80" y2="250.22" stroke="#666" stroke-width="0.5" />
<text x="38.40" y="251.72" font-size="4.2" fill="#444" text-anchor="end" font-family='"Liberation Sans", sans-serif' font-weight="normal" >0.05</text>
<line x1="40.20" y1="237.55" x2="41.70" y2="237.55" stroke="#666" stroke-width="0.5" />
<line x1="144.30" y1="237.55" x2="142.80" y2="237.55" stroke="#666" stroke-width="0.5" />
<text x="38.40" y="239.05" font-size="4.2" fill="#444" text-anchor="end" font-family='"Liberation Sans", sans-serif' font-weight="normal" >0.10</text>
<line x1="40.20" y1="224.87" x2="41.70" y2="224.87" stroke="#666" stroke-width="0.5" />
<line x1="144.30" y1="224.87" x2="142.80" y2="224.87" stroke="#666" stroke-width="0.5" />
<text x="38.40" y="226.37" font-size="4.2" fill="#444" text-anchor="end" font-family='"Liberation Sans", sans-serif' font-weight="normal" >0.15</text>
<line x1="40.20" y1="212.20" x2="41.70" y2="212.20" stroke="#666" stroke-width="0.5" />
<line x1="144.30" y1="212.20" x2="142.80" y2="212.20" stroke="#666" stroke-width="0.5" />
<text x="38.40" y="213.70" font-size="4.2" fill="#444" text-anchor="end" font-family='"Liberation Sans", sans-serif' font-weight="normal" >0.20</text>
<text x="40.80" y="294.80" font-size="4.2" fill="#444" text-anchor="middle" font-family='"Liberation Sans", sans-serif' font-weight="normal" >0.5</text>
<text x="53.70" y="294.80" font-size="4.2" fill="#444" text-anchor="middle" font-family='"Liberation Sans", sans-serif' font-weight="normal" >1.0</text>
<text x="66.60" y="294.80" font-size="4.2" fill="#444" text-anchor="middle" font-family='"Liberation Sans", sans-serif' font-weight="normal" >1.5</text>
<text x="79.50" y="294.80" font-size="4.2" fill="#444" text-anchor="middle" font-family='"Liberation Sans", sans-serif' font-weight="normal" >2.0</text>
<text x="92.40" y="294.80" font-size="4.2" fill="#444" text-anchor="middle" font-family='"Liberation Sans", sans-serif' font-weight="normal" >2.5</text>
<text x="105.30" y="294.80" font-size="4.2" fill="#444" text-anchor="middle" font-family='"Liberation Sans", sans-serif' font-weight="normal" >3.0</text>
<text x="118.20" y="294.80" font-size="4.2" fill="#444" text-anchor="middle" font-family='"Liberation Sans", sans-serif' font-weight="normal" >3.5</text>
<text x="131.10" y="294.80" font-size="4.2" fill="#444" text-anchor="middle" font-family='"Liberation Sans", sans-serif' font-weight="normal" >4.0</text>
<text x="144.00" y="294.80" font-size="4.2" fill="#444" text-anchor="middle" font-family='"Liberation Sans", sans-serif' font-weight="normal" >4.5</text>
<text x="92.50" y="302.60" font-size="4.8" fill="#444" text-anchor="middle" font-family='"Liberation Sans", sans-serif' font-weight="normal" >Tip speed ratio</text>
<text x="25.60" y="250.30" font-size="4.8" fill="#444" text-anchor="middle" font-family='"Liberation Sans", sans-serif' font-weight="normal" transform="rotate(-90 25.6 250.3)" >Torque coefficient</text>
<text x="8.10" y="302.20" font-size="10" fill="#111" text-anchor="start" font-family='"Liberation Serif", serif' font-weight="bold" >(c)</text>
<polyline points="53.70,237.60 55.00,236.30 56.63,234.50 58.55,232.31 60.70,229.84 63.03,227.20 65.51,224.51 68.07,221.86 70.67,219.37 73.26,217.15 75.80,215.31 78.23,213.96 80.50,213.20 82.67,213.01 84.82,213.26 86.95,213.88 89.08,214.83 91.19,216.04 93.30,217.47 95.41,219.06 97.51,220.75 99.62,222.50 101.74,224.24 103.86,225.93 106.00,227.50 108.23,229.12 110.61,230.94 113.07,232.91 115.59,234.99 118.11,237.12 120.59,239.24 122.98,241.32 125.24,243.30 127.32,245.13 129.17,246.75 130.74,248.13 132.00,249.20" stroke="#555" stroke-width="0.6" fill="none" stroke-linejoin="round" />
<circle cx="53.70" cy="237.60" r="1.4" fill="none" stroke="#888" stroke-width="0.5"/>
<circle cx="80.50" cy="213.20" r="1.4" fill="none" stroke="#888" stroke-width="0.5"/>
<circle cx="106.00" cy="227.50" r="1.4" fill="none" stroke="#888" stroke-width="0.5"/>
<circle cx="132.00" cy="249.20" r="1.4" fill="none" stroke="#888" stroke-width="0.5"/>
<polyline points="53.70,238.80 55.00,237.39 56.63,235.45 58.55,233.08 60.70,230.41 63.03,227.56 65.51,224.65 68.07,221.79 70.67,219.11 73.26,216.72 75.80,214.74 78.23,213.29 80.50,212.50 82.67,212.33 84.82,212.65 86.95,213.39 89.08,214.48 91.19,215.86 93.30,217.48 95.41,219.27 97.51,221.16 99.62,223.09 101.74,225.00 103.86,226.82 106.00,228.50 108.23,230.19 110.61,232.07 113.07,234.09 115.59,236.20 118.11,238.36 120.59,240.50 122.98,242.59 125.24,244.57 127.32,246.41 129.17,248.04 130.74,249.42 132.00,250.50" stroke="#555" stroke-width="0.6" fill="none" stroke-linejoin="round" />
<circle cx="53.70" cy="238.80" r="1.4" fill="none" stroke="#888" stroke-width="0.5"/>
<circle cx="80.50" cy="212.50" r="1.4" fill="none" stroke="#888" stroke-width="0.5"/>
<circle cx="106.00" cy="228.50" r="1.4" fill="none" stroke="#888" stroke-width="0.5"/>
<circle cx="132.00" cy="250.50" r="1.4" fill="none" stroke="#888" stroke-width="0.5"/>
<polyline points="53.70,239.50 55.00,238.12 56.63,236.20 58.55,233.86 60.70,231.22 63.03,228.40 65.51,225.53 68.07,222.71 70.67,220.08 73.26,217.75 75.80,215.85 78.23,214.49 80.50,213.80 82.67,213.76 84.82,214.24 86.95,215.17 89.08,216.48 91.19,218.09 93.30,219.93 95.41,221.92 97.51,224.01 99.62,226.11 101.74,228.16 103.86,230.08 106.00,231.80 108.23,233.48 110.61,235.29 113.07,237.19 115.59,239.15 118.11,241.12 120.59,243.08 122.98,244.96 125.24,246.75 127.32,248.40 129.17,249.86 130.74,251.11 132.00,252.10" stroke="#555" stroke-width="0.6" fill="none" stroke-linejoin="round" />
<circle cx="53.70" cy="239.50" r="1.4" fill="none" stroke="#888" stroke-width="0.5"/>
<circle cx="80.50" cy="213.80" r="1.4" fill="none" stroke="#888" stroke-width="0.5"/>
<circle cx="106.00" cy="231.80" r="1.4" fill="none" stroke="#888" stroke-width="0.5"/>
<circle cx="132.00" cy="252.10" r="1.4" fill="none" stroke="#888" stroke-width="0.5"/>
<polyline points="53.70,247.80 55.00,245.95 56.63,243.41 58.55,240.32 60.70,236.84 63.03,233.12 65.51,229.31 68.07,225.55 70.67,222.01 73.26,218.84 75.80,216.18 78.23,214.18 80.50,213.00 82.67,212.62 84.82,212.85 86.95,213.62 89.08,214.83 91.19,216.41 93.30,218.26 95.41,220.31 97.51,222.47 99.62,224.65 101.74,226.78 103.86,228.75 106.00,230.50 108.23,232.19 110.61,234.04 113.07,236.00 115.59,238.02 118.11,240.07 120.59,242.09 122.98,244.06 125.24,245.93 127.32,247.64 129.17,249.17 130.74,250.47 132.00,251.50" stroke="#555" stroke-width="0.6" fill="none" stroke-linejoin="round" />
<circle cx="53.70" cy="247.80" r="1.4" fill="none" stroke="#888" stroke-width="0.5"/>
<circle cx="80.50" cy="213.00" r="1.4" fill="none" stroke="#888" stroke-width="0.5"/>
<circle cx="106.00" cy="230.50" r="1.4" fill="none" stroke="#888" stroke-width="0.5"/>
<circle cx="132.00" cy="251.50" r="1.4" fill="none" stroke="#888" stroke-width="0.5"/>
<polyline points="53.70,237.60 55.00,237.25 56.63,236.70 58.55,236.01 60.70,235.24 63.03,234.42 65.51,233.61 68.07,232.87 70.67,232.23 73.26,231.75 75.80,231.49 78.23,231.49 80.50,231.80 82.67,232.43 84.82,233.32 86.95,234.45 89.08,235.77 91.19,237.26 93.30,238.87 95.41,240.57 97.51,242.33 99.62,244.10 101.74,245.86 103.86,247.57 106.00,249.20 108.23,250.85 110.61,252.65 113.07,254.55 115.59,256.50 118.11,258.48 120.59,260.44 122.98,262.33 125.24,264.13 127.32,265.78 129.17,267.26 130.74,268.51 132.00,269.50" stroke="#555" stroke-width="0.6" fill="none" stroke-linejoin="round" />
<circle cx="53.70" cy="237.60" r="1.4" fill="none" stroke="#888" stroke-width="0.5"/>
<circle cx="80.50" cy="231.80" r="1.4" fill="none" stroke="#888" stroke-width="0.5"/>
<circle cx="106.00" cy="249.20" r="1.4" fill="none" stroke="#888" stroke-width="0.5"/>
<circle cx="132.00" cy="269.50" r="1.4" fill="none" stroke="#888" stroke-width="0.5"/>
<polyline points="53.70,247.80 55.00,247.40 56.63,246.82 58.55,246.11 60.70,245.31 63.03,244.47 65.51,243.61 68.07,242.78 70.67,242.02 73.26,241.37 75.80,240.88 78.23,240.57 80.50,240.50 82.67,240.63 84.82,240.89 86.95,241.28 89.08,241.79 91.19,242.40 93.30,243.12 95.41,243.94 97.51,244.85 99.62,245.83 101.74,246.89 103.86,248.02 106.00,249.20 108.23,250.55 110.61,252.15 113.07,253.94 115.59,255.86 118.11,257.86 120.59,259.89 122.98,261.89 125.24,263.81 127.32,265.58 129.17,267.16 130.74,268.48 132.00,269.50" stroke="#555" stroke-width="0.6" fill="none" stroke-linejoin="round" />
<circle cx="53.70" cy="247.80" r="1.4" fill="none" stroke="#888" stroke-width="0.5"/>
<circle cx="80.50" cy="240.50" r="1.4" fill="none" stroke="#888" stroke-width="0.5"/>
<circle cx="106.00" cy="249.20" r="1.4" fill="none" stroke="#888" stroke-width="0.5"/>
<circle cx="132.00" cy="269.50" r="1.4" fill="none" stroke="#888" stroke-width="0.5"/>
<rect x="42.30" y="255.00" width="62.00" height="31.80" stroke="#999" stroke-width="0.5" fill="#fff" />
<line x1="45.80" y1="258.80" x2="55.90" y2="258.80" stroke="#555" stroke-width="0.6" />
<circle cx="51.00" cy="258.80" r="1.3" fill="#fff" stroke="#777" stroke-width="0.5"/>
<text x="57.40" y="260.20" font-size="4.0" fill="#444" text-anchor="start" font-family='"Liberation Sans", sans-serif' font-weight="normal" >ke-standard</text>
<line x1="45.80" y1="263.65" x2="55.90" y2="263.65" stroke="#555" stroke-width="0.6" />
<circle cx="51.00" cy="263.65" r="1.3" fill="#fff" stroke="#777" stroke-width="0.5"/>
<text x="57.40" y="265.05" font-size="4.0" fill="#444" text-anchor="start" font-family='"Liberation Sans", sans-serif' font-weight="normal" >ke-rng</text>
<line x1="45.80" y1="268.50" x2="55.90" y2="268.50" stroke="#555" stroke-width="0.6" />
<circle cx="51.00" cy="268.50" r="1.3" fill="#fff" stroke="#777" stroke-width="0.5"/>
<text x="57.40" y="269.90" font-size="4.0" fill="#444" text-anchor="start" font-family='"Liberation Sans", sans-serif' font-weight="normal" >transition-sst</text>
<line x1="45.80" y1="273.35" x2="55.90" y2="273.35" stroke="#555" stroke-width="0.6" />
<circle cx="51.00" cy="273.35" r="1.3" fill="#fff" stroke="#777" stroke-width="0.5"/>
<text x="57.40" y="274.75" font-size="4.0" fill="#444" text-anchor="start" font-family='"Liberation Sans", sans-serif' font-weight="normal" >kw-sst</text>
<line x1="45.80" y1="278.20" x2="55.90" y2="278.20" stroke="#555" stroke-width="0.6" />
<circle cx="51.00" cy="278.20" r="1.3" fill="#fff" stroke="#777" stroke-width="0.5"/>
<text x="57.40" y="279.60" font-size="4.0" fill="#444" text-anchor="start" font-family='"Liberation Sans", sans-serif' font-weight="normal" >reynolds stress model</text>
<line x1="45.80" y1="283.05" x2="55.90" y2="283.05" stroke="#555" stroke-width="0.6" />
<circle cx="51.00" cy="283.05" r="1.3" fill="#fff" stroke="#777" stroke-width="0.5"/>
<text x="57.40" y="284.45" font-size="4.0" fill="#444" text-anchor="start" font-family='"Liberation Sans", sans-serif' font-weight="normal" >large-eddy simulation</text>
<rect x="198.60" y="8.10" width="157.40" height="82.90" stroke="#999" stroke-width="0.8" fill="none" />
<line x1="198.80" y1="91.00" x2="198.80" y2="89.80" stroke="#444" stroke-width="0.6" />
<line x1="210.00" y1="91.00" x2="210.00" y2="89.00" stroke="#444" stroke-width="0.6" />
<line x1="221.20" y1="91.00" x2="221.20" y2="89.80" stroke="#444" stroke-width="0.6" />
<line x1="232.40" y1="91.00" x2="232.40" y2="89.00" stroke="#444" stroke-width="0.6" />
<line x1="243.60" y1="91.00" x2="243.60" y2="89.80" stroke="#444" stroke-width="0.6" />
<line x1="254.80" y1="91.00" x2="254.80" y2="89.00" stroke="#444" stroke-width="0.6" />
<line x1="266.00" y1="91.00" x2="266.00" y2="89.80" stroke="#444" stroke-width="0.6" />
<line x1="277.20" y1="91.00" x2="277.20" y2="89.00" stroke="#444" stroke-width="0.6" />
<line x1="288.40" y1="91.00" x2="288.40" y2="89.80" stroke="#444" stroke-width="0.6" />
<line x1="299.60" y1="91.00" x2="299.60" y2="89.00" stroke="#444" stroke-width="0.6" />
<line x1="310.80" y1="91.00" x2="310.80" y2="89.80" stroke="#444" stroke-width="0.6" />
<line x1="322.00" y1="91.00" x2="322.00" y2="89.00" stroke="#444" stroke-width="0.6" />
<line x1="333.20" y1="91.00" x2="333.20" y2="89.80" stroke="#444" stroke-width="0.6" />
<line x1="344.40" y1="91.00" x2="344.40" y2="89.00" stroke="#444" stroke-width="0.6" />
<line x1="198.60" y1="90.91" x2="199.80" y2="90.91" stroke="#444" stroke-width="0.6" />
<line x1="198.60" y1="82.60" x2="200.60" y2="82.60" stroke="#444" stroke-width="0.6" />
<line x1="198.60" y1="74.29" x2="199.80" y2="74.29" stroke="#444" stroke-width="0.6" />
<line x1="198.60" y1="65.98" x2="200.60" y2="65.98" stroke="#444" stroke-width="0.6" />
<line x1="198.60" y1="57.67" x2="199.80" y2="57.67" stroke="#444" stroke-width="0.6" />
<line x1="198.60" y1="49.36" x2="200.60" y2="49.36" stroke="#444" stroke-width="0.6" />
<line x1="198.60" y1="41.05" x2="199.80" y2="41.05" stroke="#444" stroke-width="0.6" />
<line x1="198.60" y1="32.74" x2="200.60" y2="32.74" stroke="#444" stroke-width="0.6" />
<line x1="198.60" y1="24.43" x2="199.80" y2="24.43" stroke="#444" stroke-width="0.6" />
<line x1="198.60" y1="16.12" x2="200.60" y2="16.12" stroke="#444" stroke-width="0.6" />
<text x="196.60" y="84.40" font-size="5.2" fill="#333" text-anchor="end" font-family='"Liberation Serif", serif' font-weight="normal" >0.0</text>
<text x="196.60" y="67.78" font-size="5.2" fill="#333" text-anchor="end" font-family='"Liberation Serif", serif' font-weight="normal" >0.1</text>
<text x="196.60" y="51.16" font-size="5.2" fill="#333" text-anchor="end" font-family='"Liberation Serif", serif' font-weight="normal" >0.2</text>
<text x="196.60" y="34.54" font-size="5.2" fill="#333" text-anchor="end" font-family='"Liberation Serif", serif' font-weight="normal" >0.3</text>
<text x="196.60" y="17.92" font-size="5.2" fill="#333" text-anchor="end" font-family='"Liberation Serif", serif' font-weight="normal" >0.4</text>
<text x="210.00" y="100.20" font-size="5.2" fill="#333" text-anchor="middle" font-family='"Liberation Serif", serif' font-weight="normal" >1.4</text>
<text x="232.40" y="100.20" font-size="5.2" fill="#333" text-anchor="middle" font-family='"Liberation Serif", serif' font-weight="normal" >1.6</text>
<text x="254.80" y="100.20" font-size="5.2" fill="#333" text-anchor="middle" font-family='"Liberation Serif", serif' font-weight="normal" >1.8</text>
<text x="277.20" y="100.20" font-size="5.2" fill="#333" text-anchor="middle" font-family='"Liberation Serif", serif' font-weight="normal" >2.0</text>
<text x="299.60" y="100.20" font-size="5.2" fill="#333" text-anchor="middle" font-family='"Liberation Serif", serif' font-weight="normal" >2.2</text>
<text x="322.00" y="100.20" font-size="5.2" fill="#333" text-anchor="middle" font-family='"Liberation Serif", serif' font-weight="normal" >2.4</text>
<text x="344.40" y="100.20" font-size="5.2" fill="#333" text-anchor="middle" font-family='"Liberation Serif", serif' font-weight="normal" >2.6</text>
<text x="277.60" y="107.80" font-size="5.7" fill="#333" text-anchor="middle" font-family='"Liberation Serif", serif' font-weight="normal" >Tip speed ratio</text>
<text x="186.40" y="49.30" font-size="5.9" fill="#333" text-anchor="middle" font-family='"Liberation Serif", serif' font-weight="normal" transform="rotate(-90 186.4 49.3)" >Power coefficient</text>
<text x="177.90" y="95.90" font-size="10" fill="#111" text-anchor="start" font-family='"Liberation Serif", serif' font-weight="bold" >(d)</text>
<rect x="217.00" y="13.40" width="38.20" height="35.10" stroke="#555" stroke-width="0.6" fill="#fff" />
<circle cx="223.20" cy="16.60" r="1.3" fill="#111" stroke="none" stroke-width="1"/>
<text x="229.60" y="18.10" font-size="4.4" fill="#333" text-anchor="start" font-family='"Liberation Serif", serif' font-weight="normal" >Experiment</text>
<circle cx="223.20" cy="22.05" r="1.3" fill="#e02020" stroke="none" stroke-width="1"/>
<text x="229.60" y="23.55" font-size="4.4" fill="#333" text-anchor="start" font-family='"Liberation Serif", serif' font-weight="normal" >2D URANS</text>
<polygon points="223.20,26.00 221.90,28.41 224.50,28.41" fill="#3040c0"/>
<text x="229.60" y="29.00" font-size="4.4" fill="#333" text-anchor="start" font-family='"Liberation Serif", serif' font-weight="normal" >3D LES</text>
<polygon points="223.20,31.45 221.90,33.86 224.50,33.86" fill="#e020c0"/>
<text x="229.60" y="34.45" font-size="4.4" fill="#333" text-anchor="start" font-family='"Liberation Serif", serif' font-weight="normal" >2.5D URANS</text>
<circle cx="223.20" cy="38.40" r="1.3" fill="#208020" stroke="none" stroke-width="1"/>
<text x="229.60" y="39.90" font-size="4.4" fill="#333" text-anchor="start" font-family='"Liberation Serif", serif' font-weight="normal" >2.5D LES</text>
<polygon points="223.20,42.35 221.90,43.85 223.20,45.35 224.50,43.85" fill="#1a1a80"/>
<text x="229.60" y="45.35" font-size="4.4" fill="#333" text-anchor="start" font-family='"Liberation Serif", serif' font-weight="normal" >3D URANS</text>
<circle cx="210.00" cy="78.80" r="1.35" fill="#111" stroke="none" stroke-width="1"/>
<circle cx="243.60" cy="73.80" r="1.35" fill="#111" stroke="none" stroke-width="1"/>
<circle cx="277.20" cy="58.30" r="1.35" fill="#111" stroke="none" stroke-width="1"/>
<circle cx="310.80" cy="39.50" r="1.35" fill="#111" stroke="none" stroke-width="1"/>
<circle cx="333.20" cy="35.00" r="1.35" fill="#111" stroke="none" stroke-width="1"/>
<circle cx="210.00" cy="78.00" r="1.35" fill="#e02020" stroke="none" stroke-width="1"/>
<circle cx="243.60" cy="72.60" r="1.35" fill="#e02020" stroke="none" stroke-width="1"/>
<circle cx="277.20" cy="53.50" r="1.35" fill="#e02020" stroke="none" stroke-width="1"/>
<circle cx="310.80" cy="41.20" r="1.35" fill="#e02020" stroke="none" stroke-width="1"/>
<circle cx="333.20" cy="29.50" r="1.35" fill="#e02020" stroke="none" stroke-width="1"/>
<polygon points="210.00,78.25 208.65,80.74 211.35,80.74" fill="#3040c0"/>
<polygon points="243.60,73.25 242.25,75.74 244.95,75.74" fill="#3040c0"/>
<polygon points="277.20,55.45 275.85,57.95 278.55,57.95" fill="#3040c0"/>
<polygon points="310.80,47.35 309.45,49.84 312.15,49.84" fill="#3040c0"/>
<polygon points="333.20,34.85 331.85,37.34 334.55,37.34" fill="#3040c0"/>
<polygon points="210.00,76.05 208.65,78.54 211.35,78.54" fill="#e020c0"/>
<polygon points="243.60,70.45 242.25,72.94 244.95,72.94" fill="#e020c0"/>
<polygon points="277.20,53.05 275.85,55.55 278.55,55.55" fill="#e020c0"/>
<polygon points="310.80,38.45 309.45,40.95 312.15,40.95" fill="#e020c0"/>
<polygon points="333.20,29.45 331.85,31.95 334.55,31.95" fill="#e020c0"/>
<circle cx="210.00" cy="79.00" r="1.35" fill="#208020" stroke="none" stroke-width="1"/>
<circle cx="243.60" cy="74.20" r="1.35" fill="#208020" stroke="none" stroke-width="1"/>
<circle cx="277.20" cy="56.30" r="1.35" fill="#208020" stroke="none" stroke-width="1"/>
<circle cx="310.80" cy="45.40" r="1.35" fill="#208020" stroke="none" stroke-width="1"/>
<circle cx="333.20" cy="33.40" r="1.35" fill="#208020" stroke="none" stroke-width="1"/>
<polygon points="210.00,75.75 208.65,77.30 210.00,78.85 211.35,77.30" fill="#1a1a80"/>
<polygon points="243.60,67.05 242.25,68.60 243.60,70.15 244.95,68.60" fill="#1a1a80"/>
<polygon points="277.20,49.05 275.85,50.60 277.20,52.15 278.55,50.60" fill="#1a1a80"/>
<polygon points="310.80,31.25 309.45,32.80 310.80,34.35 312.15,32.80" fill="#1a1a80"/>
<polygon points="333.20,16.65 331.85,18.20 333.20,19.75 334.55,18.20" fill="#1a1a80"/>
<rect x="222" y="167" width="19.5" height="29" fill="#fdf2f7"/>
<rect x="207.9" y="196.3" width="15.7" height="4.2" fill="#f8bcd8"/>
<line x1="211.20" y1="113.00" x2="211.20" y2="194.40" stroke="#8c8c8c" stroke-width="0.6" />
<line x1="221.23" y1="113.00" x2="221.23" y2="194.40" stroke="#8c8c8c" stroke-width="0.6" />
<line x1="231.27" y1="113.00" x2="231.27" y2="194.40" stroke="#8c8c8c" stroke-width="0.6" />
<line x1="241.30" y1="113.00" x2="241.30" y2="194.40" stroke="#8c8c8c" stroke-width="0.6" />
<line x1="251.34" y1="113.00" x2="251.34" y2="194.40" stroke="#8c8c8c" stroke-width="0.6" />
<line x1="261.38" y1="113.00" x2="261.38" y2="194.40" stroke="#8c8c8c" stroke-width="0.6" />
<line x1="271.41" y1="113.00" x2="271.41" y2="194.40" stroke="#8c8c8c" stroke-width="0.6" />
<line x1="281.44" y1="113.00" x2="281.44" y2="194.40" stroke="#8c8c8c" stroke-width="0.6" />
<line x1="291.48" y1="113.00" x2="291.48" y2="194.40" stroke="#8c8c8c" stroke-width="0.6" />
<line x1="301.51" y1="113.00" x2="301.51" y2="194.40" stroke="#8c8c8c" stroke-width="0.6" />
<line x1="311.55" y1="113.00" x2="311.55" y2="194.40" stroke="#8c8c8c" stroke-width="0.6" />
<line x1="321.58" y1="113.00" x2="321.58" y2="194.40" stroke="#8c8c8c" stroke-width="0.6" />
<line x1="331.62" y1="113.00" x2="331.62" y2="194.40" stroke="#8c8c8c" stroke-width="0.6" />
<line x1="211.20" y1="194.40" x2="331.60" y2="194.40" stroke="#8c8c8c" stroke-width="0.6" />
<line x1="211.20" y1="184.24" x2="331.60" y2="184.24" stroke="#8c8c8c" stroke-width="0.6" />
<line x1="211.20" y1="174.08" x2="331.60" y2="174.08" stroke="#8c8c8c" stroke-width="0.6" />
<line x1="211.20" y1="163.92" x2="331.60" y2="163.92" stroke="#8c8c8c" stroke-width="0.6" />
<line x1="211.20" y1="153.76" x2="331.60" y2="153.76" stroke="#8c8c8c" stroke-width="0.6" />
<line x1="211.20" y1="143.60" x2="331.60" y2="143.60" stroke="#8c8c8c" stroke-width="0.6" />
<line x1="211.20" y1="133.44" x2="331.60" y2="133.44" stroke="#8c8c8c" stroke-width="0.6" />
<line x1="211.20" y1="123.28" x2="331.60" y2="123.28" stroke="#8c8c8c" stroke-width="0.6" />
<line x1="211.20" y1="113.12" x2="331.60" y2="113.12" stroke="#8c8c8c" stroke-width="0.6" />
<rect x="211.20" y="113.00" width="120.40" height="81.40" stroke="#555" stroke-width="0.7" fill="none" />
<text x="208.80" y="195.90" font-size="4.3" fill="#333" text-anchor="end" font-family='"Liberation Sans", sans-serif' font-weight="normal" ></text>
<text x="208.80" y="185.74" font-size="4.3" fill="#333" text-anchor="end" font-family='"Liberation Sans", sans-serif' font-weight="normal" >0.4</text>
<text x="208.80" y="175.58" font-size="4.3" fill="#333" text-anchor="end" font-family='"Liberation Sans", sans-serif' font-weight="normal" >0.8</text>
<text x="208.80" y="165.42" font-size="4.3" fill="#333" text-anchor="end" font-family='"Liberation Sans", sans-serif' font-weight="normal" >1.2</text>
<text x="208.80" y="155.26" font-size="4.3" fill="#333" text-anchor="end" font-family='"Liberation Sans", sans-serif' font-weight="normal" >1.6</text>
<text x="208.80" y="145.10" font-size="4.3" fill="#333" text-anchor="end" font-family='"Liberation Sans", sans-serif' font-weight="normal" >2</text>
<text x="208.80" y="134.94" font-size="4.3" fill="#333" text-anchor="end" font-family='"Liberation Sans", sans-serif' font-weight="normal" >2.4</text>
<text x="208.80" y="124.78" font-size="4.3" fill="#333" text-anchor="end" font-family='"Liberation Sans", sans-serif' font-weight="normal" >2.8</text>
<text x="208.80" y="114.62" font-size="4.3" fill="#333" text-anchor="end" font-family='"Liberation Sans", sans-serif' font-weight="normal" >3.2</text>
<text x="211.20" y="200.80" font-size="4.6" fill="#e8406a" text-anchor="middle" font-family='"Liberation Sans", sans-serif' font-weight="normal" >0</text>
<text x="221.23" y="200.80" font-size="4.6" fill="#e8406a" text-anchor="middle" font-family='"Liberation Sans", sans-serif' font-weight="normal" >15</text>
<text x="231.27" y="200.80" font-size="4.6" fill="#333" text-anchor="middle" font-family='"Liberation Sans", sans-serif' font-weight="normal" >30</text>
<text x="241.30" y="200.80" font-size="4.6" fill="#333" text-anchor="middle" font-family='"Liberation Sans", sans-serif' font-weight="normal" >45</text>
<text x="251.34" y="200.80" font-size="4.6" fill="#333" text-anchor="middle" font-family='"Liberation Sans", sans-serif' font-weight="normal" >60</text>
<text x="261.38" y="200.80" font-size="4.6" fill="#333" text-anchor="middle" font-family='"Liberation Sans", sans-serif' font-weight="normal" >75</text>
<text x="271.41" y="200.80" font-size="4.6" fill="#333" text-anchor="middle" font-family='"Liberation Sans", sans-serif' font-weight="normal" >90</text>
<text x="281.44" y="200.80" font-size="4.6" fill="#333" text-anchor="middle" font-family='"Liberation Sans", sans-serif' font-weight="normal" >105</text>
<text x="291.48" y="200.80" font-size="4.6" fill="#333" text-anchor="middle" font-family='"Liberation Sans", sans-serif' font-weight="normal" >120</text>
<text x="301.51" y="200.80" font-size="4.6" fill="#333" text-anchor="middle" font-family='"Liberation Sans", sans-serif' font-weight="normal" >135</text>
<text x="311.55" y="200.80" font-size="4.6" fill="#333" text-anchor="middle" font-family='"Liberation Sans", sans-serif' font-weight="normal" >150</text>
<text x="321.58" y="200.80" font-size="4.6" fill="#333" text-anchor="middle" font-family='"Liberation Sans", sans-serif' font-weight="normal" >165</text>
<text x="331.62" y="200.80" font-size="4.6" fill="#333" text-anchor="middle" font-family='"Liberation Sans", sans-serif' font-weight="normal" >180</text>
<text x="198.60" y="155.40" font-size="7" fill="#222" text-anchor="middle" font-family='"Liberation Sans", sans-serif' font-weight="normal" transform="rotate(-90 198.6 155.4)" >C<tspan font-size="4.5" dy="1.2">p</tspan></text>
<text x="178.60" y="188.80" font-size="10" fill="#111" text-anchor="start" font-family='"Liberation Serif", serif' font-weight="bold" >(e)</text>
<rect x="207.9" y="192.9" width="15.7" height="3.6" rx="1.2" fill="#cc5a55"/>
<circle cx="209.20" cy="193.60" r="0.85" fill="#b84040" stroke="none" stroke-width="1"/>
<circle cx="210.15" cy="194.50" r="0.85" fill="#b84040" stroke="none" stroke-width="1"/>
<circle cx="211.10" cy="193.60" r="0.85" fill="#b84040" stroke="none" stroke-width="1"/>
<circle cx="212.05" cy="194.50" r="0.85" fill="#b84040" stroke="none" stroke-width="1"/>
<circle cx="213.00" cy="193.60" r="0.85" fill="#b84040" stroke="none" stroke-width="1"/>
<circle cx="213.95" cy="194.50" r="0.85" fill="#b84040" stroke="none" stroke-width="1"/>
<circle cx="214.90" cy="193.60" r="0.85" fill="#b84040" stroke="none" stroke-width="1"/>
<circle cx="215.85" cy="194.50" r="0.85" fill="#b84040" stroke="none" stroke-width="1"/>
<circle cx="216.80" cy="193.60" r="0.85" fill="#b84040" stroke="none" stroke-width="1"/>
<circle cx="217.75" cy="194.50" r="0.85" fill="#b84040" stroke="none" stroke-width="1"/>
<circle cx="218.70" cy="193.60" r="0.85" fill="#b84040" stroke="none" stroke-width="1"/>
<circle cx="219.65" cy="194.50" r="0.85" fill="#b84040" stroke="none" stroke-width="1"/>
<circle cx="220.60" cy="193.60" r="0.85" fill="#b84040" stroke="none" stroke-width="1"/>
<circle cx="221.55" cy="194.50" r="0.85" fill="#b84040" stroke="none" stroke-width="1"/>
<circle cx="222.50" cy="193.60" r="0.85" fill="#b84040" stroke="none" stroke-width="1"/>
<polyline points="221.20,189.20 221.40,189.07 221.64,188.94 221.93,188.79 222.26,188.60 222.63,188.35 223.04,188.01 223.50,187.57 224.00,187.00 224.56,186.27 225.19,185.39 225.86,184.39 226.58,183.31 227.32,182.20 228.06,181.08 228.79,180.00 229.50,179.00 230.18,178.06 230.84,177.12 231.50,176.20 232.16,175.29 232.83,174.40 233.53,173.52 234.25,172.65 235.00,171.80 235.79,170.98 236.61,170.19 237.45,169.42 238.32,168.66 239.20,167.90 240.09,167.12 240.99,166.33 241.90,165.50 242.83,164.63 243.80,163.72 244.79,162.80 245.79,161.86 246.77,160.92 247.73,159.99 248.65,159.08 249.50,158.20 250.28,157.34 250.99,156.49 251.65,155.64 252.29,154.81 252.92,154.01 253.57,153.23 254.26,152.49 255.00,151.80 255.79,151.15 256.59,150.54 257.41,149.97 258.25,149.43 259.13,148.92 260.04,148.43 261.00,147.96 262.00,147.50 263.07,147.04 264.22,146.58 265.42,146.12 266.66,145.69 267.90,145.31 269.14,144.99 270.34,144.75 271.50,144.60 272.60,144.54 273.66,144.53 274.69,144.59 275.72,144.72 276.75,144.92 277.79,145.20 278.87,145.56 280.00,146.00 281.19,146.55 282.43,147.22 283.71,147.98 285.00,148.81 286.29,149.69 287.57,150.60 288.81,151.51 290.00,152.40 291.16,153.31 292.32,154.28 293.47,155.28 294.59,156.29 295.67,157.29 296.69,158.25 297.64,159.17 298.50,160.00 299.25,160.72 299.88,161.35 300.43,161.91 300.93,162.44 301.41,162.98 301.89,163.56 302.41,164.22 303.00,165.00 303.64,165.89 304.30,166.86 304.98,167.90 305.68,168.99 306.39,170.11 307.12,171.27 307.85,172.43 308.60,173.60 309.37,174.83 310.16,176.15 310.98,177.52 311.81,178.91 312.63,180.25 313.44,181.51 314.24,182.64 315.00,183.60 315.74,184.36 316.46,184.95 317.17,185.41 317.87,185.79 318.55,186.13 319.22,186.47 319.87,186.84 320.50,187.30 321.11,187.84 321.70,188.43 322.26,189.05 322.81,189.67 323.36,190.28 323.90,190.85 324.44,191.36 325.00,191.80 325.59,192.17 326.23,192.48 326.89,192.75 327.53,192.98 328.14,193.18 328.69,193.34 329.15,193.48 329.50,193.60" stroke="#333" stroke-width="1.1" fill="none" stroke-linejoin="round" />
<path d="M220.40,188.90H223.00M221.70,187.60V190.20" stroke="#8a6a10" stroke-width="0.9"/>
<path d="M223.30,187.50H225.90M224.60,186.20V188.80" stroke="#8a6a10" stroke-width="0.9"/>
<path d="M226.20,183.10H228.80M227.50,181.80V184.40" stroke="#8a6a10" stroke-width="0.9"/>
<path d="M228.30,180.20H230.90M229.60,178.90V181.50" stroke="#8a6a10" stroke-width="0.9"/>
<path d="M229.80,177.30H232.40M231.10,176.00V178.60" stroke="#8a6a10" stroke-width="0.9"/>
<path d="M231.20,175.20H233.80M232.50,173.90V176.50" stroke="#8a6a10" stroke-width="0.9"/>
<path d="M232.70,173.00H235.30M234.00,171.70V174.30" stroke="#8a6a10" stroke-width="0.9"/>
<path d="M239.90,166.50H242.50M241.20,165.20V167.80" stroke="#8a6a10" stroke-width="0.9"/>
<circle cx="223.50" cy="188.20" r="1.4" fill="none" stroke="#c89020" stroke-width="0.7"/>
<circle cx="228.50" cy="181.50" r="1.4" fill="none" stroke="#c89020" stroke-width="0.7"/>
<circle cx="231.80" cy="176.50" r="1.4" fill="none" stroke="#c89020" stroke-width="0.7"/>
<circle cx="234.70" cy="170.10" r="1.4" fill="none" stroke="#c89020" stroke-width="0.7"/>
<circle cx="241.90" cy="143.60" r="2.0" fill="none" stroke="#e8203a" stroke-width="0.85"/>
<circle cx="271.20" cy="117.70" r="2.0" fill="none" stroke="#e8203a" stroke-width="0.85"/>
<circle cx="304.30" cy="144.80" r="2.0" fill="none" stroke="#e8203a" stroke-width="0.85"/>
<path d="M269.80,122.70H272.60M271.20,121.30V124.10" stroke="#e8203a" stroke-width="1"/>
<circle cx="271.20" cy="122.70" r="0.9" fill="#e8203a" stroke="none" stroke-width="1"/>
<path d="M302.90,146.80H305.70M304.30,145.40V148.20" stroke="#e8203a" stroke-width="1"/>
<circle cx="304.30" cy="146.80" r="0.9" fill="#e8203a" stroke="none" stroke-width="1"/>
<path d="M270.10,140.00L272.30,142.20M270.10,142.20L272.30,140.00" stroke="#e8203a" stroke-width="0.8"/>
<path d="M302.90,161.30L305.10,163.50M302.90,163.50L305.10,161.30" stroke="#a05040" stroke-width="0.8"/>
<rect x="249.50" y="164.20" width="45.50" height="28.00" stroke="#555" stroke-width="0.6" fill="#fff" />
<line x1="251.20" y1="167.40" x2="256.00" y2="167.40" stroke="#333" stroke-width="1.0" />
<text x="256.20" y="169.00" font-size="4.7" fill="#222" text-anchor="start" font-family='"Liberation Serif", serif' font-weight="bold" >(Claessens, 2006)</text>
<circle cx="257.70" cy="174.20" r="1.5" fill="none" stroke="#c89020" stroke-width="0.7"/>
<path d="M256.30,180.50H259.10M257.70,179.10V181.90" stroke="#5a4a10" stroke-width="0.9"/>
<path d="M256.60,186.20L258.80,188.40M256.60,188.40L258.80,186.20" stroke="#8a6a10" stroke-width="0.8"/>
<text x="266.50" y="175.80" font-size="4.5" fill="#333" text-anchor="start" font-family='"Liberation Sans", sans-serif' font-weight="normal" >2D URANS</text>
<text x="266.50" y="182.10" font-size="4.5" fill="#333" text-anchor="start" font-family='"Liberation Sans", sans-serif' font-weight="normal" >2.5D URANS</text>
<text x="266.50" y="188.90" font-size="4.5" fill="#333" text-anchor="start" font-family='"Liberation Sans", sans-serif' font-weight="normal" >2.5D LES</text>
<rect x="224.0" y="219" width="31.5" height="33" fill="#fdf0f6"/>
<rect x="256" y="256" width="95" height="28" fill="#fdf2f7"/>
<rect x="204.00" y="212.20" width="147.70" height="75.00" stroke="#666" stroke-width="0.8" fill="none" />
<line x1="203.80" y1="287.20" x2="203.80" y2="285.40" stroke="#555" stroke-width="0.6" />
<line x1="213.01" y1="287.20" x2="213.01" y2="286.20" stroke="#555" stroke-width="0.6" />
<line x1="222.23" y1="287.20" x2="222.23" y2="285.40" stroke="#555" stroke-width="0.6" />
<line x1="231.44" y1="287.20" x2="231.44" y2="286.20" stroke="#555" stroke-width="0.6" />
<line x1="240.66" y1="287.20" x2="240.66" y2="285.40" stroke="#555" stroke-width="0.6" />
<line x1="249.87" y1="287.20" x2="249.87" y2="286.20" stroke="#555" stroke-width="0.6" />
<line x1="259.08" y1="287.20" x2="259.08" y2="285.40" stroke="#555" stroke-width="0.6" />
<line x1="268.30" y1="287.20" x2="268.30" y2="286.20" stroke="#555" stroke-width="0.6" />
<line x1="277.51" y1="287.20" x2="277.51" y2="285.40" stroke="#555" stroke-width="0.6" />
<line x1="286.72" y1="287.20" x2="286.72" y2="286.20" stroke="#555" stroke-width="0.6" />
<line x1="295.94" y1="287.20" x2="295.94" y2="285.40" stroke="#555" stroke-width="0.6" />
<line x1="305.15" y1="287.20" x2="305.15" y2="286.20" stroke="#555" stroke-width="0.6" />
<line x1="314.37" y1="287.20" x2="314.37" y2="285.40" stroke="#555" stroke-width="0.6" />
<line x1="323.58" y1="287.20" x2="323.58" y2="286.20" stroke="#555" stroke-width="0.6" />
<line x1="332.79" y1="287.20" x2="332.79" y2="285.40" stroke="#555" stroke-width="0.6" />
<line x1="342.01" y1="287.20" x2="342.01" y2="286.20" stroke="#555" stroke-width="0.6" />
<line x1="351.22" y1="287.20" x2="351.22" y2="285.40" stroke="#555" stroke-width="0.6" />
<line x1="204.00" y1="283.10" x2="205.80" y2="283.10" stroke="#555" stroke-width="0.6" />
<text x="201.40" y="284.70" font-size="4.6" fill="#222" text-anchor="end" font-family='"Liberation Serif", serif' font-weight="normal" >-0.3</text>
<line x1="204.00" y1="271.80" x2="205.80" y2="271.80" stroke="#555" stroke-width="0.6" />
<text x="201.40" y="273.40" font-size="4.6" fill="#222" text-anchor="end" font-family='"Liberation Serif", serif' font-weight="normal" >0.0</text>
<line x1="204.00" y1="260.50" x2="205.80" y2="260.50" stroke="#555" stroke-width="0.6" />
<text x="201.40" y="262.10" font-size="4.6" fill="#222" text-anchor="end" font-family='"Liberation Serif", serif' font-weight="normal" >0.3</text>
<line x1="204.00" y1="249.20" x2="205.80" y2="249.20" stroke="#555" stroke-width="0.6" />
<text x="201.40" y="250.80" font-size="4.6" fill="#222" text-anchor="end" font-family='"Liberation Serif", serif' font-weight="normal" >0.6</text>
<line x1="204.00" y1="237.90" x2="205.80" y2="237.90" stroke="#555" stroke-width="0.6" />
<text x="201.40" y="239.50" font-size="4.6" fill="#222" text-anchor="end" font-family='"Liberation Serif", serif' font-weight="normal" >0.9</text>
<line x1="204.00" y1="226.60" x2="205.80" y2="226.60" stroke="#555" stroke-width="0.6" />
<text x="201.40" y="228.20" font-size="4.6" fill="#222" text-anchor="end" font-family='"Liberation Serif", serif' font-weight="normal" >1.2</text>
<line x1="204.00" y1="215.30" x2="205.80" y2="215.30" stroke="#555" stroke-width="0.6" />
<text x="201.40" y="216.90" font-size="4.6" fill="#222" text-anchor="end" font-family='"Liberation Serif", serif' font-weight="normal" >1.5</text>
<text x="203.80" y="295.20" font-size="4.6" fill="#222" text-anchor="middle" font-family='"Liberation Serif", serif' font-weight="normal" >0</text>
<text x="222.23" y="295.20" font-size="4.6" fill="#222" text-anchor="middle" font-family='"Liberation Serif", serif' font-weight="normal" >45</text>
<text x="240.66" y="295.20" font-size="4.6" fill="#222" text-anchor="middle" font-family='"Liberation Serif", serif' font-weight="normal" >90</text>
<text x="259.08" y="295.20" font-size="4.6" fill="#222" text-anchor="middle" font-family='"Liberation Serif", serif' font-weight="normal" >135</text>
<text x="277.51" y="295.20" font-size="4.6" fill="#222" text-anchor="middle" font-family='"Liberation Serif", serif' font-weight="normal" >180</text>
<text x="295.94" y="295.20" font-size="4.6" fill="#222" text-anchor="middle" font-family='"Liberation Serif", serif' font-weight="normal" >225</text>
<text x="314.37" y="295.20" font-size="4.6" fill="#222" text-anchor="middle" font-family='"Liberation Serif", serif' font-weight="normal" >270</text>
<text x="332.79" y="295.20" font-size="4.6" fill="#222" text-anchor="middle" font-family='"Liberation Serif", serif' font-weight="normal" >315</text>
<text x="351.22" y="295.20" font-size="4.6" fill="#222" text-anchor="middle" font-family='"Liberation Serif", serif' font-weight="normal" >360</text>
<text x="278.30" y="303.40" font-size="5.8" fill="#333" text-anchor="middle" font-family='"Liberation Serif", serif' font-weight="normal" >Azimuthal angle (°)</text>
<text x="187.60" y="250.60" font-size="6.0" fill="#333" text-anchor="middle" font-family='"Liberation Serif", serif' font-weight="normal" transform="rotate(-90 187.6 250.6)" >Tangential force coefficient</text>
<text x="270.00" y="209.60" font-size="4.2" fill="#555" text-anchor="middle" font-family='"Liberation Serif", serif' font-weight="normal" >θ</text>
<text x="278.60" y="222.80" font-size="8.4" fill="#222" text-anchor="start" font-family='"Liberation Serif", serif' font-weight="normal" >TSR=2</text>
<text x="177.60" y="302.20" font-size="10" fill="#111" text-anchor="start" font-family='"Liberation Serif", serif' font-weight="bold" >(f)</text>
<circle cx="203.00" cy="270.00" r="0.95" fill="#4a3e0e" stroke="none" stroke-width="1"/>
<circle cx="204.90" cy="270.93" r="0.95" fill="#4a3e0e" stroke="none" stroke-width="1"/>
<circle cx="206.80" cy="271.98" r="0.95" fill="#4a3e0e" stroke="none" stroke-width="1"/>
<circle cx="208.70" cy="273.14" r="0.95" fill="#4a3e0e" stroke="none" stroke-width="1"/>
<circle cx="210.60" cy="274.02" r="0.95" fill="#4a3e0e" stroke="none" stroke-width="1"/>
<circle cx="212.50" cy="274.44" r="0.95" fill="#4a3e0e" stroke="none" stroke-width="1"/>
<circle cx="214.40" cy="274.23" r="0.95" fill="#4a3e0e" stroke="none" stroke-width="1"/>
<circle cx="216.30" cy="273.18" r="0.95" fill="#4a3e0e" stroke="none" stroke-width="1"/>
<circle cx="218.20" cy="271.36" r="0.95" fill="#4a3e0e" stroke="none" stroke-width="1"/>
<circle cx="220.10" cy="268.36" r="0.95" fill="#4a3e0e" stroke="none" stroke-width="1"/>
<circle cx="222.00" cy="264.60" r="0.95" fill="#4a3e0e" stroke="none" stroke-width="1"/>
<circle cx="223.90" cy="260.67" r="0.95" fill="#4a3e0e" stroke="none" stroke-width="1"/>
<circle cx="225.80" cy="256.73" r="0.95" fill="#4a3e0e" stroke="none" stroke-width="1"/>
<circle cx="227.70" cy="252.48" r="0.95" fill="#4a3e0e" stroke="none" stroke-width="1"/>
<circle cx="229.60" cy="247.78" r="0.95" fill="#4a3e0e" stroke="none" stroke-width="1"/>
<circle cx="231.50" cy="242.59" r="0.95" fill="#4a3e0e" stroke="none" stroke-width="1"/>
<circle cx="233.40" cy="237.77" r="0.95" fill="#4a3e0e" stroke="none" stroke-width="1"/>
<circle cx="235.30" cy="233.13" r="0.95" fill="#4a3e0e" stroke="none" stroke-width="1"/>
<circle cx="237.20" cy="228.62" r="0.95" fill="#4a3e0e" stroke="none" stroke-width="1"/>
<circle cx="239.10" cy="225.39" r="0.95" fill="#4a3e0e" stroke="none" stroke-width="1"/>
<circle cx="241.00" cy="223.30" r="0.95" fill="#4a3e0e" stroke="none" stroke-width="1"/>
<circle cx="242.90" cy="221.86" r="0.95" fill="#4a3e0e" stroke="none" stroke-width="1"/>
<circle cx="244.80" cy="221.17" r="0.95" fill="#4a3e0e" stroke="none" stroke-width="1"/>
<circle cx="246.70" cy="221.90" r="0.95" fill="#4a3e0e" stroke="none" stroke-width="1"/>
<circle cx="248.60" cy="224.15" r="0.95" fill="#4a3e0e" stroke="none" stroke-width="1"/>
<circle cx="250.50" cy="227.41" r="0.95" fill="#4a3e0e" stroke="none" stroke-width="1"/>
<circle cx="252.40" cy="230.94" r="0.95" fill="#4a3e0e" stroke="none" stroke-width="1"/>
<circle cx="254.30" cy="234.80" r="0.95" fill="#4a3e0e" stroke="none" stroke-width="1"/>
<circle cx="256.20" cy="238.97" r="0.95" fill="#4a3e0e" stroke="none" stroke-width="1"/>
<circle cx="258.10" cy="243.65" r="0.95" fill="#4a3e0e" stroke="none" stroke-width="1"/>
<circle cx="260.00" cy="249.30" r="0.95" fill="#4a3e0e" stroke="none" stroke-width="1"/>
<circle cx="261.90" cy="255.21" r="0.95" fill="#4a3e0e" stroke="none" stroke-width="1"/>
<circle cx="263.80" cy="260.71" r="0.95" fill="#4a3e0e" stroke="none" stroke-width="1"/>
<circle cx="265.70" cy="265.87" r="0.95" fill="#4a3e0e" stroke="none" stroke-width="1"/>
<circle cx="267.60" cy="271.48" r="0.95" fill="#4a3e0e" stroke="none" stroke-width="1"/>
<circle cx="269.50" cy="275.95" r="0.95" fill="#4a3e0e" stroke="none" stroke-width="1"/>
<circle cx="271.40" cy="278.91" r="0.95" fill="#4a3e0e" stroke="none" stroke-width="1"/>
<circle cx="273.30" cy="279.69" r="0.95" fill="#4a3e0e" stroke="none" stroke-width="1"/>
<circle cx="275.20" cy="279.02" r="0.95" fill="#4a3e0e" stroke="none" stroke-width="1"/>
<circle cx="277.10" cy="276.78" r="0.95" fill="#4a3e0e" stroke="none" stroke-width="1"/>
<circle cx="279.00" cy="271.02" r="0.95" fill="#4a3e0e" stroke="none" stroke-width="1"/>
<circle cx="280.90" cy="268.44" r="0.95" fill="#4a3e0e" stroke="none" stroke-width="1"/>
<circle cx="282.80" cy="266.75" r="0.95" fill="#4a3e0e" stroke="none" stroke-width="1"/>
<circle cx="284.70" cy="265.74" r="0.95" fill="#4a3e0e" stroke="none" stroke-width="1"/>
<circle cx="286.60" cy="265.26" r="0.95" fill="#4a3e0e" stroke="none" stroke-width="1"/>
<circle cx="288.50" cy="264.88" r="0.95" fill="#4a3e0e" stroke="none" stroke-width="1"/>
<circle cx="290.40" cy="264.62" r="0.95" fill="#4a3e0e" stroke="none" stroke-width="1"/>
<circle cx="292.30" cy="264.64" r="0.95" fill="#4a3e0e" stroke="none" stroke-width="1"/>
<circle cx="294.20" cy="265.06" r="0.95" fill="#4a3e0e" stroke="none" stroke-width="1"/>
<circle cx="296.10" cy="265.75" r="0.95" fill="#4a3e0e" stroke="none" stroke-width="1"/>
<circle cx="298.00" cy="266.56" r="0.95" fill="#4a3e0e" stroke="none" stroke-width="1"/>
<circle cx="299.90" cy="267.54" r="0.95" fill="#4a3e0e" stroke="none" stroke-width="1"/>
<circle cx="301.80" cy="268.60" r="0.95" fill="#4a3e0e" stroke="none" stroke-width="1"/>
<circle cx="303.70" cy="269.72" r="0.95" fill="#4a3e0e" stroke="none" stroke-width="1"/>
<circle cx="305.60" cy="270.53" r="0.95" fill="#4a3e0e" stroke="none" stroke-width="1"/>
<circle cx="307.50" cy="270.94" r="0.95" fill="#4a3e0e" stroke="none" stroke-width="1"/>
<circle cx="309.40" cy="271.04" r="0.95" fill="#4a3e0e" stroke="none" stroke-width="1"/>
<circle cx="311.30" cy="270.69" r="0.95" fill="#4a3e0e" stroke="none" stroke-width="1"/>
<circle cx="313.20" cy="269.51" r="0.95" fill="#4a3e0e" stroke="none" stroke-width="1"/>
<circle cx="315.10" cy="267.72" r="0.95" fill="#4a3e0e" stroke="none" stroke-width="1"/>
<circle cx="317.00" cy="266.30" r="0.95" fill="#4a3e0e" stroke="none" stroke-width="1"/>
<circle cx="318.90" cy="265.92" r="0.95" fill="#4a3e0e" stroke="none" stroke-width="1"/>
<circle cx="320.80" cy="266.23" r="0.95" fill="#4a3e0e" stroke="none" stroke-width="1"/>
<circle cx="322.70" cy="266.83" r="0.95" fill="#4a3e0e" stroke="none" stroke-width="1"/>
<circle cx="324.60" cy="267.75" r="0.95" fill="#4a3e0e" stroke="none" stroke-width="1"/>
<circle cx="326.50" cy="269.07" r="0.95" fill="#4a3e0e" stroke="none" stroke-width="1"/>
<circle cx="328.40" cy="269.79" r="0.95" fill="#4a3e0e" stroke="none" stroke-width="1"/>
<circle cx="330.30" cy="268.97" r="0.95" fill="#4a3e0e" stroke="none" stroke-width="1"/>
<circle cx="332.20" cy="266.98" r="0.95" fill="#4a3e0e" stroke="none" stroke-width="1"/>
<circle cx="334.10" cy="265.05" r="0.95" fill="#4a3e0e" stroke="none" stroke-width="1"/>
<circle cx="336.00" cy="264.00" r="0.95" fill="#4a3e0e" stroke="none" stroke-width="1"/>
<circle cx="337.90" cy="263.46" r="0.95" fill="#4a3e0e" stroke="none" stroke-width="1"/>
<circle cx="339.80" cy="263.35" r="0.95" fill="#4a3e0e" stroke="none" stroke-width="1"/>
<circle cx="341.70" cy="263.69" r="0.95" fill="#4a3e0e" stroke="none" stroke-width="1"/>
<circle cx="343.60" cy="264.52" r="0.95" fill="#4a3e0e" stroke="none" stroke-width="1"/>
<circle cx="345.50" cy="265.61" r="0.95" fill="#4a3e0e" stroke="none" stroke-width="1"/>
<circle cx="347.40" cy="266.85" r="0.95" fill="#4a3e0e" stroke="none" stroke-width="1"/>
<circle cx="349.30" cy="268.36" r="0.95" fill="#4a3e0e" stroke="none" stroke-width="1"/>
<circle cx="351.20" cy="269.97" r="0.95" fill="#4a3e0e" stroke="none" stroke-width="1"/>
<circle cx="203.50" cy="270.24" r="0.95" fill="#111111" stroke="none" stroke-width="1"/>
<circle cx="205.40" cy="271.18" r="0.95" fill="#111111" stroke="none" stroke-width="1"/>
<circle cx="207.30" cy="272.30" r="0.95" fill="#111111" stroke="none" stroke-width="1"/>
<circle cx="209.20" cy="273.40" r="0.95" fill="#111111" stroke="none" stroke-width="1"/>
<circle cx="211.10" cy="274.20" r="0.95" fill="#111111" stroke="none" stroke-width="1"/>
<circle cx="213.00" cy="274.45" r="0.95" fill="#111111" stroke="none" stroke-width="1"/>
<circle cx="214.90" cy="274.04" r="0.95" fill="#111111" stroke="none" stroke-width="1"/>
<circle cx="216.80" cy="272.78" r="0.95" fill="#111111" stroke="none" stroke-width="1"/>
<circle cx="218.70" cy="270.71" r="0.95" fill="#111111" stroke="none" stroke-width="1"/>
<circle cx="220.60" cy="267.43" r="0.95" fill="#111111" stroke="none" stroke-width="1"/>
<circle cx="222.50" cy="263.56" r="0.95" fill="#111111" stroke="none" stroke-width="1"/>
<circle cx="224.40" cy="259.66" r="0.95" fill="#111111" stroke="none" stroke-width="1"/>
<circle cx="226.30" cy="255.64" r="0.95" fill="#111111" stroke="none" stroke-width="1"/>
<circle cx="228.20" cy="251.32" r="0.95" fill="#111111" stroke="none" stroke-width="1"/>
<circle cx="230.10" cy="246.31" r="0.95" fill="#111111" stroke="none" stroke-width="1"/>
<circle cx="232.00" cy="240.97" r="0.95" fill="#111111" stroke="none" stroke-width="1"/>
<circle cx="233.90" cy="236.09" r="0.95" fill="#111111" stroke="none" stroke-width="1"/>
<circle cx="235.80" cy="231.35" r="0.95" fill="#111111" stroke="none" stroke-width="1"/>
<circle cx="237.70" cy="227.02" r="0.95" fill="#111111" stroke="none" stroke-width="1"/>
<circle cx="239.60" cy="224.18" r="0.95" fill="#111111" stroke="none" stroke-width="1"/>
<circle cx="241.50" cy="222.18" r="0.95" fill="#111111" stroke="none" stroke-width="1"/>
<circle cx="243.40" cy="220.76" r="0.95" fill="#111111" stroke="none" stroke-width="1"/>
<circle cx="245.30" cy="220.30" r="0.95" fill="#111111" stroke="none" stroke-width="1"/>
<circle cx="247.20" cy="221.49" r="0.95" fill="#111111" stroke="none" stroke-width="1"/>
<circle cx="249.10" cy="224.40" r="0.95" fill="#111111" stroke="none" stroke-width="1"/>
<circle cx="251.00" cy="227.79" r="0.95" fill="#111111" stroke="none" stroke-width="1"/>
<circle cx="252.90" cy="231.43" r="0.95" fill="#111111" stroke="none" stroke-width="1"/>
<circle cx="254.80" cy="235.37" r="0.95" fill="#111111" stroke="none" stroke-width="1"/>
<circle cx="256.70" cy="239.62" r="0.95" fill="#111111" stroke="none" stroke-width="1"/>
<circle cx="258.60" cy="244.63" r="0.95" fill="#111111" stroke="none" stroke-width="1"/>
<circle cx="260.50" cy="250.39" r="0.95" fill="#111111" stroke="none" stroke-width="1"/>
<circle cx="262.40" cy="256.25" r="0.95" fill="#111111" stroke="none" stroke-width="1"/>
<circle cx="264.30" cy="261.58" r="0.95" fill="#111111" stroke="none" stroke-width="1"/>
<circle cx="266.20" cy="266.51" r="0.95" fill="#111111" stroke="none" stroke-width="1"/>
<circle cx="268.10" cy="271.16" r="0.95" fill="#111111" stroke="none" stroke-width="1"/>
<circle cx="270.00" cy="274.71" r="0.95" fill="#111111" stroke="none" stroke-width="1"/>
<circle cx="271.90" cy="277.28" r="0.95" fill="#111111" stroke="none" stroke-width="1"/>
<circle cx="273.80" cy="278.28" r="0.95" fill="#111111" stroke="none" stroke-width="1"/>
<circle cx="275.70" cy="277.29" r="0.95" fill="#111111" stroke="none" stroke-width="1"/>
<circle cx="277.60" cy="274.54" r="0.95" fill="#111111" stroke="none" stroke-width="1"/>
<circle cx="279.50" cy="271.02" r="0.95" fill="#111111" stroke="none" stroke-width="1"/>
<circle cx="281.40" cy="266.90" r="0.95" fill="#111111" stroke="none" stroke-width="1"/>
<circle cx="283.30" cy="262.75" r="0.95" fill="#111111" stroke="none" stroke-width="1"/>
<circle cx="285.20" cy="258.80" r="0.95" fill="#111111" stroke="none" stroke-width="1"/>
<circle cx="287.10" cy="257.12" r="0.95" fill="#111111" stroke="none" stroke-width="1"/>
<circle cx="289.00" cy="257.79" r="0.95" fill="#111111" stroke="none" stroke-width="1"/>
<circle cx="290.90" cy="259.98" r="0.95" fill="#111111" stroke="none" stroke-width="1"/>
<circle cx="292.80" cy="261.69" r="0.95" fill="#111111" stroke="none" stroke-width="1"/>
<circle cx="294.70" cy="263.05" r="0.95" fill="#111111" stroke="none" stroke-width="1"/>
<circle cx="296.60" cy="263.82" r="0.95" fill="#111111" stroke="none" stroke-width="1"/>
<circle cx="298.50" cy="264.20" r="0.95" fill="#111111" stroke="none" stroke-width="1"/>
<circle cx="300.40" cy="264.10" r="0.95" fill="#111111" stroke="none" stroke-width="1"/>
<circle cx="302.30" cy="264.03" r="0.95" fill="#111111" stroke="none" stroke-width="1"/>
<circle cx="304.20" cy="264.31" r="0.95" fill="#111111" stroke="none" stroke-width="1"/>
<circle cx="306.10" cy="264.84" r="0.95" fill="#111111" stroke="none" stroke-width="1"/>
<circle cx="308.00" cy="265.83" r="0.95" fill="#111111" stroke="none" stroke-width="1"/>
<circle cx="309.90" cy="266.75" r="0.95" fill="#111111" stroke="none" stroke-width="1"/>
<circle cx="311.80" cy="266.95" r="0.95" fill="#111111" stroke="none" stroke-width="1"/>
<circle cx="313.70" cy="266.43" r="0.95" fill="#111111" stroke="none" stroke-width="1"/>
<circle cx="315.60" cy="265.78" r="0.95" fill="#111111" stroke="none" stroke-width="1"/>
<circle cx="317.50" cy="265.49" r="0.95" fill="#111111" stroke="none" stroke-width="1"/>
<circle cx="319.40" cy="265.57" r="0.95" fill="#111111" stroke="none" stroke-width="1"/>
<circle cx="321.30" cy="265.85" r="0.95" fill="#111111" stroke="none" stroke-width="1"/>
<circle cx="323.20" cy="266.26" r="0.95" fill="#111111" stroke="none" stroke-width="1"/>
<circle cx="325.10" cy="267.03" r="0.95" fill="#111111" stroke="none" stroke-width="1"/>
<circle cx="327.00" cy="267.90" r="0.95" fill="#111111" stroke="none" stroke-width="1"/>
<circle cx="328.90" cy="268.20" r="0.95" fill="#111111" stroke="none" stroke-width="1"/>
<circle cx="330.80" cy="267.43" r="0.95" fill="#111111" stroke="none" stroke-width="1"/>
<circle cx="332.70" cy="266.05" r="0.95" fill="#111111" stroke="none" stroke-width="1"/>
<circle cx="334.60" cy="264.81" r="0.95" fill="#111111" stroke="none" stroke-width="1"/>
<circle cx="336.50" cy="264.11" r="0.95" fill="#111111" stroke="none" stroke-width="1"/>
<circle cx="338.40" cy="263.70" r="0.95" fill="#111111" stroke="none" stroke-width="1"/>
<circle cx="340.30" cy="263.58" r="0.95" fill="#111111" stroke="none" stroke-width="1"/>
<circle cx="342.20" cy="263.79" r="0.95" fill="#111111" stroke="none" stroke-width="1"/>
<circle cx="344.10" cy="264.35" r="0.95" fill="#111111" stroke="none" stroke-width="1"/>
<circle cx="346.00" cy="265.09" r="0.95" fill="#111111" stroke="none" stroke-width="1"/>
<circle cx="347.90" cy="265.90" r="0.95" fill="#111111" stroke="none" stroke-width="1"/>
<circle cx="349.80" cy="266.91" r="0.95" fill="#111111" stroke="none" stroke-width="1"/>
<circle cx="203.30" cy="270.15" r="0.95" fill="#8a62e6" stroke="none" stroke-width="1"/>
<circle cx="205.20" cy="271.08" r="0.95" fill="#8a62e6" stroke="none" stroke-width="1"/>
<circle cx="207.10" cy="272.17" r="0.95" fill="#8a62e6" stroke="none" stroke-width="1"/>
<circle cx="209.00" cy="273.30" r="0.95" fill="#8a62e6" stroke="none" stroke-width="1"/>
<circle cx="210.90" cy="274.13" r="0.95" fill="#8a62e6" stroke="none" stroke-width="1"/>
<circle cx="212.80" cy="274.45" r="0.95" fill="#8a62e6" stroke="none" stroke-width="1"/>
<circle cx="214.70" cy="274.12" r="0.95" fill="#8a62e6" stroke="none" stroke-width="1"/>
<circle cx="216.60" cy="272.95" r="0.95" fill="#8a62e6" stroke="none" stroke-width="1"/>
<circle cx="218.50" cy="270.98" r="0.95" fill="#8a62e6" stroke="none" stroke-width="1"/>
<circle cx="220.40" cy="267.81" r="0.95" fill="#8a62e6" stroke="none" stroke-width="1"/>
<circle cx="222.30" cy="263.97" r="0.95" fill="#8a62e6" stroke="none" stroke-width="1"/>
<circle cx="224.20" cy="260.06" r="0.95" fill="#8a62e6" stroke="none" stroke-width="1"/>
<circle cx="226.10" cy="256.08" r="0.95" fill="#8a62e6" stroke="none" stroke-width="1"/>
<circle cx="228.00" cy="251.82" r="0.95" fill="#8a62e6" stroke="none" stroke-width="1"/>
<circle cx="229.90" cy="246.76" r="0.95" fill="#8a62e6" stroke="none" stroke-width="1"/>
<circle cx="231.80" cy="241.20" r="0.95" fill="#8a62e6" stroke="none" stroke-width="1"/>
<circle cx="233.70" cy="236.91" r="0.95" fill="#8a62e6" stroke="none" stroke-width="1"/>
<circle cx="235.60" cy="234.02" r="0.95" fill="#8a62e6" stroke="none" stroke-width="1"/>
<circle cx="237.50" cy="231.60" r="0.95" fill="#8a62e6" stroke="none" stroke-width="1"/>
<circle cx="239.40" cy="229.06" r="0.95" fill="#8a62e6" stroke="none" stroke-width="1"/>
<circle cx="241.30" cy="227.04" r="0.95" fill="#8a62e6" stroke="none" stroke-width="1"/>
<circle cx="243.20" cy="226.08" r="0.95" fill="#8a62e6" stroke="none" stroke-width="1"/>
<circle cx="245.10" cy="226.38" r="0.95" fill="#8a62e6" stroke="none" stroke-width="1"/>
<circle cx="247.00" cy="228.04" r="0.95" fill="#8a62e6" stroke="none" stroke-width="1"/>
<circle cx="248.90" cy="230.52" r="0.95" fill="#8a62e6" stroke="none" stroke-width="1"/>
<circle cx="250.80" cy="233.17" r="0.95" fill="#8a62e6" stroke="none" stroke-width="1"/>
<circle cx="252.70" cy="235.98" r="0.95" fill="#8a62e6" stroke="none" stroke-width="1"/>
<circle cx="254.60" cy="239.18" r="0.95" fill="#8a62e6" stroke="none" stroke-width="1"/>
<circle cx="256.50" cy="243.74" r="0.95" fill="#8a62e6" stroke="none" stroke-width="1"/>
<circle cx="258.40" cy="248.77" r="0.95" fill="#8a62e6" stroke="none" stroke-width="1"/>
<circle cx="260.30" cy="254.29" r="0.95" fill="#8a62e6" stroke="none" stroke-width="1"/>
<circle cx="262.20" cy="258.54" r="0.95" fill="#8a62e6" stroke="none" stroke-width="1"/>
<circle cx="264.10" cy="263.45" r="0.95" fill="#8a62e6" stroke="none" stroke-width="1"/>
<circle cx="266.00" cy="268.01" r="0.95" fill="#8a62e6" stroke="none" stroke-width="1"/>
<circle cx="267.90" cy="272.67" r="0.95" fill="#8a62e6" stroke="none" stroke-width="1"/>
<circle cx="269.80" cy="276.28" r="0.95" fill="#8a62e6" stroke="none" stroke-width="1"/>
<circle cx="271.70" cy="278.83" r="0.95" fill="#8a62e6" stroke="none" stroke-width="1"/>
<circle cx="273.60" cy="278.51" r="0.95" fill="#8a62e6" stroke="none" stroke-width="1"/>
<circle cx="275.50" cy="276.11" r="0.95" fill="#8a62e6" stroke="none" stroke-width="1"/>
<circle cx="277.40" cy="273.14" r="0.95" fill="#8a62e6" stroke="none" stroke-width="1"/>
<circle cx="279.30" cy="270.34" r="0.95" fill="#8a62e6" stroke="none" stroke-width="1"/>
<circle cx="281.20" cy="268.04" r="0.95" fill="#8a62e6" stroke="none" stroke-width="1"/>
<circle cx="283.10" cy="265.88" r="0.95" fill="#8a62e6" stroke="none" stroke-width="1"/>
<circle cx="285.00" cy="263.52" r="0.95" fill="#8a62e6" stroke="none" stroke-width="1"/>
<circle cx="286.90" cy="262.49" r="0.95" fill="#8a62e6" stroke="none" stroke-width="1"/>
<circle cx="288.80" cy="262.80" r="0.95" fill="#8a62e6" stroke="none" stroke-width="1"/>
<circle cx="290.70" cy="263.75" r="0.95" fill="#8a62e6" stroke="none" stroke-width="1"/>
<circle cx="292.60" cy="264.86" r="0.95" fill="#8a62e6" stroke="none" stroke-width="1"/>
<circle cx="294.50" cy="266.14" r="0.95" fill="#8a62e6" stroke="none" stroke-width="1"/>
<circle cx="296.40" cy="267.68" r="0.95" fill="#8a62e6" stroke="none" stroke-width="1"/>
<circle cx="298.30" cy="268.86" r="0.95" fill="#8a62e6" stroke="none" stroke-width="1"/>
<circle cx="300.20" cy="267.12" r="0.95" fill="#8a62e6" stroke="none" stroke-width="1"/>
<circle cx="302.10" cy="262.34" r="0.95" fill="#8a62e6" stroke="none" stroke-width="1"/>
<circle cx="304.00" cy="260.85" r="0.95" fill="#8a62e6" stroke="none" stroke-width="1"/>
<circle cx="305.90" cy="261.04" r="0.95" fill="#8a62e6" stroke="none" stroke-width="1"/>
<circle cx="307.80" cy="262.05" r="0.95" fill="#8a62e6" stroke="none" stroke-width="1"/>
<circle cx="309.70" cy="263.34" r="0.95" fill="#8a62e6" stroke="none" stroke-width="1"/>
<circle cx="311.60" cy="264.40" r="0.95" fill="#8a62e6" stroke="none" stroke-width="1"/>
<circle cx="313.50" cy="264.97" r="0.95" fill="#8a62e6" stroke="none" stroke-width="1"/>
<circle cx="315.40" cy="265.30" r="0.95" fill="#8a62e6" stroke="none" stroke-width="1"/>
<circle cx="317.30" cy="265.58" r="0.95" fill="#8a62e6" stroke="none" stroke-width="1"/>
<circle cx="319.20" cy="265.87" r="0.95" fill="#8a62e6" stroke="none" stroke-width="1"/>
<circle cx="321.10" cy="266.12" r="0.95" fill="#8a62e6" stroke="none" stroke-width="1"/>
<circle cx="323.00" cy="266.37" r="0.95" fill="#8a62e6" stroke="none" stroke-width="1"/>
<circle cx="324.90" cy="266.77" r="0.95" fill="#8a62e6" stroke="none" stroke-width="1"/>
<circle cx="326.80" cy="267.22" r="0.95" fill="#8a62e6" stroke="none" stroke-width="1"/>
<circle cx="328.70" cy="267.31" r="0.95" fill="#8a62e6" stroke="none" stroke-width="1"/>
<circle cx="330.60" cy="266.67" r="0.95" fill="#8a62e6" stroke="none" stroke-width="1"/>
<circle cx="332.50" cy="265.59" r="0.95" fill="#8a62e6" stroke="none" stroke-width="1"/>
<circle cx="334.40" cy="264.70" r="0.95" fill="#8a62e6" stroke="none" stroke-width="1"/>
<circle cx="336.30" cy="264.39" r="0.95" fill="#8a62e6" stroke="none" stroke-width="1"/>
<circle cx="338.20" cy="264.40" r="0.95" fill="#8a62e6" stroke="none" stroke-width="1"/>
<circle cx="340.10" cy="264.56" r="0.95" fill="#8a62e6" stroke="none" stroke-width="1"/>
<circle cx="342.00" cy="264.77" r="0.95" fill="#8a62e6" stroke="none" stroke-width="1"/>
<circle cx="343.90" cy="265.07" r="0.95" fill="#8a62e6" stroke="none" stroke-width="1"/>
<circle cx="345.80" cy="265.48" r="0.95" fill="#8a62e6" stroke="none" stroke-width="1"/>
<circle cx="347.70" cy="266.05" r="0.95" fill="#8a62e6" stroke="none" stroke-width="1"/>
<circle cx="349.60" cy="266.78" r="0.95" fill="#8a62e6" stroke="none" stroke-width="1"/>
<circle cx="203.80" cy="270.39" r="0.95" fill="#2626d6" stroke="none" stroke-width="1"/>
<circle cx="205.70" cy="271.34" r="0.95" fill="#2626d6" stroke="none" stroke-width="1"/>
<circle cx="207.60" cy="272.49" r="0.95" fill="#2626d6" stroke="none" stroke-width="1"/>
<circle cx="209.50" cy="273.54" r="0.95" fill="#2626d6" stroke="none" stroke-width="1"/>
<circle cx="211.40" cy="274.28" r="0.95" fill="#2626d6" stroke="none" stroke-width="1"/>
<circle cx="213.30" cy="274.43" r="0.95" fill="#2626d6" stroke="none" stroke-width="1"/>
<circle cx="215.20" cy="273.89" r="0.95" fill="#2626d6" stroke="none" stroke-width="1"/>
<circle cx="217.10" cy="272.52" r="0.95" fill="#2626d6" stroke="none" stroke-width="1"/>
<circle cx="219.00" cy="270.26" r="0.95" fill="#2626d6" stroke="none" stroke-width="1"/>
<circle cx="220.90" cy="266.85" r="0.95" fill="#2626d6" stroke="none" stroke-width="1"/>
<circle cx="222.80" cy="262.93" r="0.95" fill="#2626d6" stroke="none" stroke-width="1"/>
<circle cx="224.70" cy="259.04" r="0.95" fill="#2626d6" stroke="none" stroke-width="1"/>
<circle cx="226.60" cy="254.99" r="0.95" fill="#2626d6" stroke="none" stroke-width="1"/>
<circle cx="228.50" cy="250.62" r="0.95" fill="#2626d6" stroke="none" stroke-width="1"/>
<circle cx="230.40" cy="245.17" r="0.95" fill="#2626d6" stroke="none" stroke-width="1"/>
<circle cx="232.30" cy="239.70" r="0.95" fill="#2626d6" stroke="none" stroke-width="1"/>
<circle cx="234.20" cy="235.50" r="0.95" fill="#2626d6" stroke="none" stroke-width="1"/>
<circle cx="236.10" cy="232.76" r="0.95" fill="#2626d6" stroke="none" stroke-width="1"/>
<circle cx="238.00" cy="230.12" r="0.95" fill="#2626d6" stroke="none" stroke-width="1"/>
<circle cx="239.90" cy="227.46" r="0.95" fill="#2626d6" stroke="none" stroke-width="1"/>
<circle cx="241.80" cy="225.44" r="0.95" fill="#2626d6" stroke="none" stroke-width="1"/>
<circle cx="243.70" cy="224.60" r="0.95" fill="#2626d6" stroke="none" stroke-width="1"/>
<circle cx="245.60" cy="225.29" r="0.95" fill="#2626d6" stroke="none" stroke-width="1"/>
<circle cx="247.50" cy="227.36" r="0.95" fill="#2626d6" stroke="none" stroke-width="1"/>
<circle cx="249.40" cy="229.95" r="0.95" fill="#2626d6" stroke="none" stroke-width="1"/>
<circle cx="251.30" cy="232.70" r="0.95" fill="#2626d6" stroke="none" stroke-width="1"/>
<circle cx="253.20" cy="235.62" r="0.95" fill="#2626d6" stroke="none" stroke-width="1"/>
<circle cx="255.10" cy="239.20" r="0.95" fill="#2626d6" stroke="none" stroke-width="1"/>
<circle cx="257.00" cy="244.01" r="0.95" fill="#2626d6" stroke="none" stroke-width="1"/>
<circle cx="258.90" cy="249.30" r="0.95" fill="#2626d6" stroke="none" stroke-width="1"/>
<circle cx="260.80" cy="254.40" r="0.95" fill="#2626d6" stroke="none" stroke-width="1"/>
<circle cx="262.70" cy="258.89" r="0.95" fill="#2626d6" stroke="none" stroke-width="1"/>
<circle cx="264.60" cy="263.61" r="0.95" fill="#2626d6" stroke="none" stroke-width="1"/>
<circle cx="266.50" cy="268.27" r="0.95" fill="#2626d6" stroke="none" stroke-width="1"/>
<circle cx="268.40" cy="272.81" r="0.95" fill="#2626d6" stroke="none" stroke-width="1"/>
<circle cx="270.30" cy="276.42" r="0.95" fill="#2626d6" stroke="none" stroke-width="1"/>
<circle cx="272.20" cy="278.53" r="0.95" fill="#2626d6" stroke="none" stroke-width="1"/>
<circle cx="274.10" cy="277.57" r="0.95" fill="#2626d6" stroke="none" stroke-width="1"/>
<circle cx="276.00" cy="274.85" r="0.95" fill="#2626d6" stroke="none" stroke-width="1"/>
<circle cx="277.90" cy="271.85" r="0.95" fill="#2626d6" stroke="none" stroke-width="1"/>
<circle cx="279.80" cy="269.22" r="0.95" fill="#2626d6" stroke="none" stroke-width="1"/>
<circle cx="281.70" cy="267.11" r="0.95" fill="#2626d6" stroke="none" stroke-width="1"/>
<circle cx="283.60" cy="264.73" r="0.95" fill="#2626d6" stroke="none" stroke-width="1"/>
<circle cx="285.50" cy="261.81" r="0.95" fill="#2626d6" stroke="none" stroke-width="1"/>
<circle cx="287.40" cy="261.00" r="0.95" fill="#2626d6" stroke="none" stroke-width="1"/>
<circle cx="289.30" cy="261.58" r="0.95" fill="#2626d6" stroke="none" stroke-width="1"/>
<circle cx="291.20" cy="262.69" r="0.95" fill="#2626d6" stroke="none" stroke-width="1"/>
<circle cx="293.10" cy="263.03" r="0.95" fill="#2626d6" stroke="none" stroke-width="1"/>
<circle cx="295.00" cy="262.50" r="0.95" fill="#2626d6" stroke="none" stroke-width="1"/>
<circle cx="296.90" cy="261.75" r="0.95" fill="#2626d6" stroke="none" stroke-width="1"/>
<circle cx="298.80" cy="260.93" r="0.95" fill="#2626d6" stroke="none" stroke-width="1"/>
<circle cx="300.70" cy="260.09" r="0.95" fill="#2626d6" stroke="none" stroke-width="1"/>
<circle cx="302.60" cy="259.56" r="0.95" fill="#2626d6" stroke="none" stroke-width="1"/>
<circle cx="304.50" cy="259.57" r="0.95" fill="#2626d6" stroke="none" stroke-width="1"/>
<circle cx="306.40" cy="260.32" r="0.95" fill="#2626d6" stroke="none" stroke-width="1"/>
<circle cx="308.30" cy="261.56" r="0.95" fill="#2626d6" stroke="none" stroke-width="1"/>
<circle cx="310.20" cy="262.83" r="0.95" fill="#2626d6" stroke="none" stroke-width="1"/>
<circle cx="312.10" cy="263.79" r="0.95" fill="#2626d6" stroke="none" stroke-width="1"/>
<circle cx="314.00" cy="264.35" r="0.95" fill="#2626d6" stroke="none" stroke-width="1"/>
<circle cx="315.90" cy="264.73" r="0.95" fill="#2626d6" stroke="none" stroke-width="1"/>
<circle cx="317.80" cy="265.07" r="0.95" fill="#2626d6" stroke="none" stroke-width="1"/>
<circle cx="319.70" cy="265.39" r="0.95" fill="#2626d6" stroke="none" stroke-width="1"/>
<circle cx="321.60" cy="265.66" r="0.95" fill="#2626d6" stroke="none" stroke-width="1"/>
<circle cx="323.50" cy="265.96" r="0.95" fill="#2626d6" stroke="none" stroke-width="1"/>
<circle cx="325.40" cy="266.41" r="0.95" fill="#2626d6" stroke="none" stroke-width="1"/>
<circle cx="327.30" cy="266.80" r="0.95" fill="#2626d6" stroke="none" stroke-width="1"/>
<circle cx="329.20" cy="266.71" r="0.95" fill="#2626d6" stroke="none" stroke-width="1"/>
<circle cx="331.10" cy="265.87" r="0.95" fill="#2626d6" stroke="none" stroke-width="1"/>
<circle cx="333.00" cy="264.74" r="0.95" fill="#2626d6" stroke="none" stroke-width="1"/>
<circle cx="334.90" cy="263.96" r="0.95" fill="#2626d6" stroke="none" stroke-width="1"/>
<circle cx="336.80" cy="263.76" r="0.95" fill="#2626d6" stroke="none" stroke-width="1"/>
<circle cx="338.70" cy="263.83" r="0.95" fill="#2626d6" stroke="none" stroke-width="1"/>
<circle cx="340.60" cy="264.01" r="0.95" fill="#2626d6" stroke="none" stroke-width="1"/>
<circle cx="342.50" cy="264.23" r="0.95" fill="#2626d6" stroke="none" stroke-width="1"/>
<circle cx="344.40" cy="264.56" r="0.95" fill="#2626d6" stroke="none" stroke-width="1"/>
<circle cx="346.30" cy="265.00" r="0.95" fill="#2626d6" stroke="none" stroke-width="1"/>
<circle cx="348.20" cy="265.63" r="0.95" fill="#2626d6" stroke="none" stroke-width="1"/>
<circle cx="350.10" cy="266.39" r="0.95" fill="#2626d6" stroke="none" stroke-width="1"/>
<circle cx="203.20" cy="270.10" r="0.95" fill="#3c5a1c" stroke="none" stroke-width="1"/>
<circle cx="205.10" cy="271.03" r="0.95" fill="#3c5a1c" stroke="none" stroke-width="1"/>
<circle cx="207.00" cy="272.10" r="0.95" fill="#3c5a1c" stroke="none" stroke-width="1"/>
<circle cx="208.90" cy="273.25" r="0.95" fill="#3c5a1c" stroke="none" stroke-width="1"/>
<circle cx="210.80" cy="274.10" r="0.95" fill="#3c5a1c" stroke="none" stroke-width="1"/>
<circle cx="212.70" cy="274.45" r="0.95" fill="#3c5a1c" stroke="none" stroke-width="1"/>
<circle cx="214.60" cy="274.16" r="0.95" fill="#3c5a1c" stroke="none" stroke-width="1"/>
<circle cx="216.50" cy="273.03" r="0.95" fill="#3c5a1c" stroke="none" stroke-width="1"/>
<circle cx="218.40" cy="271.12" r="0.95" fill="#3c5a1c" stroke="none" stroke-width="1"/>
<circle cx="220.30" cy="268.00" r="0.95" fill="#3c5a1c" stroke="none" stroke-width="1"/>
<circle cx="222.20" cy="264.18" r="0.95" fill="#3c5a1c" stroke="none" stroke-width="1"/>
<circle cx="224.10" cy="260.27" r="0.95" fill="#3c5a1c" stroke="none" stroke-width="1"/>
<circle cx="226.00" cy="256.30" r="0.95" fill="#3c5a1c" stroke="none" stroke-width="1"/>
<circle cx="227.90" cy="251.94" r="0.95" fill="#3c5a1c" stroke="none" stroke-width="1"/>
<circle cx="229.80" cy="247.47" r="0.95" fill="#3c5a1c" stroke="none" stroke-width="1"/>
<circle cx="231.70" cy="243.03" r="0.95" fill="#3c5a1c" stroke="none" stroke-width="1"/>
<circle cx="233.60" cy="238.76" r="0.95" fill="#3c5a1c" stroke="none" stroke-width="1"/>
<circle cx="235.50" cy="235.97" r="0.95" fill="#3c5a1c" stroke="none" stroke-width="1"/>
<circle cx="237.40" cy="234.65" r="0.95" fill="#3c5a1c" stroke="none" stroke-width="1"/>
<circle cx="239.30" cy="235.70" r="0.95" fill="#3c5a1c" stroke="none" stroke-width="1"/>
<circle cx="241.20" cy="237.87" r="0.95" fill="#3c5a1c" stroke="none" stroke-width="1"/>
<circle cx="243.10" cy="240.32" r="0.95" fill="#3c5a1c" stroke="none" stroke-width="1"/>
<circle cx="245.00" cy="242.88" r="0.95" fill="#3c5a1c" stroke="none" stroke-width="1"/>
<circle cx="246.90" cy="245.62" r="0.95" fill="#3c5a1c" stroke="none" stroke-width="1"/>
<circle cx="248.80" cy="248.81" r="0.95" fill="#3c5a1c" stroke="none" stroke-width="1"/>
<circle cx="250.70" cy="252.35" r="0.95" fill="#3c5a1c" stroke="none" stroke-width="1"/>
<circle cx="252.60" cy="255.67" r="0.95" fill="#3c5a1c" stroke="none" stroke-width="1"/>
<circle cx="254.50" cy="259.16" r="0.95" fill="#3c5a1c" stroke="none" stroke-width="1"/>
<circle cx="256.40" cy="262.96" r="0.95" fill="#3c5a1c" stroke="none" stroke-width="1"/>
<circle cx="258.30" cy="266.82" r="0.95" fill="#3c5a1c" stroke="none" stroke-width="1"/>
<circle cx="260.20" cy="270.80" r="0.95" fill="#3c5a1c" stroke="none" stroke-width="1"/>
<circle cx="262.10" cy="274.18" r="0.95" fill="#3c5a1c" stroke="none" stroke-width="1"/>
<circle cx="264.00" cy="276.71" r="0.95" fill="#3c5a1c" stroke="none" stroke-width="1"/>
<circle cx="265.90" cy="278.64" r="0.95" fill="#3c5a1c" stroke="none" stroke-width="1"/>
<circle cx="267.80" cy="279.92" r="0.95" fill="#3c5a1c" stroke="none" stroke-width="1"/>
<circle cx="269.70" cy="280.71" r="0.95" fill="#3c5a1c" stroke="none" stroke-width="1"/>
<circle cx="271.60" cy="280.23" r="0.95" fill="#3c5a1c" stroke="none" stroke-width="1"/>
<circle cx="273.50" cy="278.23" r="0.95" fill="#3c5a1c" stroke="none" stroke-width="1"/>
<circle cx="275.40" cy="275.76" r="0.95" fill="#3c5a1c" stroke="none" stroke-width="1"/>
<circle cx="277.30" cy="272.80" r="0.95" fill="#3c5a1c" stroke="none" stroke-width="1"/>
<circle cx="279.20" cy="269.98" r="0.95" fill="#3c5a1c" stroke="none" stroke-width="1"/>
<circle cx="281.10" cy="267.81" r="0.95" fill="#3c5a1c" stroke="none" stroke-width="1"/>
<circle cx="283.00" cy="266.20" r="0.95" fill="#3c5a1c" stroke="none" stroke-width="1"/>
<circle cx="284.90" cy="265.34" r="0.95" fill="#3c5a1c" stroke="none" stroke-width="1"/>
<circle cx="286.80" cy="264.92" r="0.95" fill="#3c5a1c" stroke="none" stroke-width="1"/>
<circle cx="288.70" cy="264.55" r="0.95" fill="#3c5a1c" stroke="none" stroke-width="1"/>
<circle cx="290.60" cy="264.32" r="0.95" fill="#3c5a1c" stroke="none" stroke-width="1"/>
<circle cx="292.50" cy="264.36" r="0.95" fill="#3c5a1c" stroke="none" stroke-width="1"/>
<circle cx="294.40" cy="264.82" r="0.95" fill="#3c5a1c" stroke="none" stroke-width="1"/>
<circle cx="296.30" cy="265.52" r="0.95" fill="#3c5a1c" stroke="none" stroke-width="1"/>
<circle cx="298.20" cy="266.35" r="0.95" fill="#3c5a1c" stroke="none" stroke-width="1"/>
<circle cx="300.10" cy="267.34" r="0.95" fill="#3c5a1c" stroke="none" stroke-width="1"/>
<circle cx="302.00" cy="268.45" r="0.95" fill="#3c5a1c" stroke="none" stroke-width="1"/>
<circle cx="303.90" cy="269.60" r="0.95" fill="#3c5a1c" stroke="none" stroke-width="1"/>
<circle cx="305.80" cy="270.40" r="0.95" fill="#3c5a1c" stroke="none" stroke-width="1"/>
<circle cx="307.70" cy="270.78" r="0.95" fill="#3c5a1c" stroke="none" stroke-width="1"/>
<circle cx="309.60" cy="270.84" r="0.95" fill="#3c5a1c" stroke="none" stroke-width="1"/>
<circle cx="311.50" cy="270.43" r="0.95" fill="#3c5a1c" stroke="none" stroke-width="1"/>
<circle cx="313.40" cy="269.15" r="0.95" fill="#3c5a1c" stroke="none" stroke-width="1"/>
<circle cx="315.30" cy="267.33" r="0.95" fill="#3c5a1c" stroke="none" stroke-width="1"/>
<circle cx="317.20" cy="266.00" r="0.95" fill="#3c5a1c" stroke="none" stroke-width="1"/>
<circle cx="319.10" cy="265.73" r="0.95" fill="#3c5a1c" stroke="none" stroke-width="1"/>
<circle cx="321.00" cy="266.09" r="0.95" fill="#3c5a1c" stroke="none" stroke-width="1"/>
<circle cx="322.90" cy="266.70" r="0.95" fill="#3c5a1c" stroke="none" stroke-width="1"/>
<circle cx="324.80" cy="267.66" r="0.95" fill="#3c5a1c" stroke="none" stroke-width="1"/>
<circle cx="326.70" cy="268.93" r="0.95" fill="#3c5a1c" stroke="none" stroke-width="1"/>
<circle cx="328.60" cy="269.49" r="0.95" fill="#3c5a1c" stroke="none" stroke-width="1"/>
<circle cx="330.50" cy="268.51" r="0.95" fill="#3c5a1c" stroke="none" stroke-width="1"/>
<circle cx="332.40" cy="266.51" r="0.95" fill="#3c5a1c" stroke="none" stroke-width="1"/>
<circle cx="334.30" cy="264.70" r="0.95" fill="#3c5a1c" stroke="none" stroke-width="1"/>
<circle cx="336.20" cy="263.73" r="0.95" fill="#3c5a1c" stroke="none" stroke-width="1"/>
<circle cx="338.10" cy="263.24" r="0.95" fill="#3c5a1c" stroke="none" stroke-width="1"/>
<circle cx="340.00" cy="263.16" r="0.95" fill="#3c5a1c" stroke="none" stroke-width="1"/>
<circle cx="341.90" cy="263.57" r="0.95" fill="#3c5a1c" stroke="none" stroke-width="1"/>
<circle cx="343.80" cy="264.43" r="0.95" fill="#3c5a1c" stroke="none" stroke-width="1"/>
<circle cx="345.70" cy="265.54" r="0.95" fill="#3c5a1c" stroke="none" stroke-width="1"/>
<circle cx="347.60" cy="266.78" r="0.95" fill="#3c5a1c" stroke="none" stroke-width="1"/>
<circle cx="349.50" cy="268.27" r="0.95" fill="#3c5a1c" stroke="none" stroke-width="1"/>
<rect x="306.60" y="213.10" width="41.60" height="32.20" stroke="#444" stroke-width="0.6" fill="#fff" />
<circle cx="312.80" cy="218.00" r="1.0" fill="#111111" stroke="none" stroke-width="1"/>
<text x="319.00" y="219.70" font-size="4.8" fill="#222" text-anchor="start" font-family='"Liberation Serif", serif' font-weight="normal" >2D SST k-ω</text>
<circle cx="312.80" cy="223.90" r="1.0" fill="#4a3e0e" stroke="none" stroke-width="1"/>
<text x="319.00" y="225.60" font-size="4.8" fill="#222" text-anchor="start" font-family='"Liberation Serif", serif' font-weight="normal" >2.5D SST k-ω</text>
<circle cx="312.80" cy="229.80" r="1.0" fill="#2626d6" stroke="none" stroke-width="1"/>
<text x="319.00" y="231.50" font-size="4.8" fill="#222" text-anchor="start" font-family='"Liberation Serif", serif' font-weight="normal" >3D SST k-ω</text>
<circle cx="312.80" cy="235.70" r="1.0" fill="#8a62e6" stroke="none" stroke-width="1"/>
<text x="319.00" y="237.40" font-size="4.8" fill="#222" text-anchor="start" font-family='"Liberation Serif", serif' font-weight="normal" >2.5D LES</text>
<circle cx="312.80" cy="241.60" r="1.0" fill="#3c5a1c" stroke="none" stroke-width="1"/>
<text x="319.00" y="243.30" font-size="4.8" fill="#222" text-anchor="start" font-family='"Liberation Serif", serif' font-weight="normal" >3D LES</text>
<rect x="417.50" y="8.60" width="89.50" height="82.40" stroke="#555" stroke-width="0.75" fill="none" />
<line x1="422.50" y1="91.00" x2="422.50" y2="89.50" stroke="#444" stroke-width="0.5" />
<text x="422.50" y="95.30" font-size="3.4" fill="#222" text-anchor="middle" font-family='"Liberation Sans", sans-serif' font-weight="bold" >1</text>
<line x1="433.90" y1="91.00" x2="433.90" y2="89.50" stroke="#444" stroke-width="0.5" />
<text x="433.90" y="95.30" font-size="3.4" fill="#222" text-anchor="middle" font-family='"Liberation Sans", sans-serif' font-weight="bold" >1.5</text>
<line x1="445.30" y1="91.00" x2="445.30" y2="89.50" stroke="#444" stroke-width="0.5" />
<text x="445.30" y="95.30" font-size="3.4" fill="#222" text-anchor="middle" font-family='"Liberation Sans", sans-serif' font-weight="bold" >2</text>
<line x1="456.70" y1="91.00" x2="456.70" y2="89.50" stroke="#444" stroke-width="0.5" />
<text x="456.70" y="95.30" font-size="3.4" fill="#222" text-anchor="middle" font-family='"Liberation Sans", sans-serif' font-weight="bold" >2.5</text>
<line x1="468.10" y1="91.00" x2="468.10" y2="89.50" stroke="#444" stroke-width="0.5" />
<text x="468.10" y="95.30" font-size="3.4" fill="#222" text-anchor="middle" font-family='"Liberation Sans", sans-serif' font-weight="bold" >3</text>
<line x1="479.50" y1="91.00" x2="479.50" y2="89.50" stroke="#444" stroke-width="0.5" />
<text x="479.50" y="95.30" font-size="3.4" fill="#222" text-anchor="middle" font-family='"Liberation Sans", sans-serif' font-weight="bold" >3.5</text>
<line x1="490.90" y1="91.00" x2="490.90" y2="89.50" stroke="#444" stroke-width="0.5" />
<text x="490.90" y="95.30" font-size="3.4" fill="#222" text-anchor="middle" font-family='"Liberation Sans", sans-serif' font-weight="bold" >4</text>
<line x1="502.30" y1="91.00" x2="502.30" y2="89.50" stroke="#444" stroke-width="0.5" />
<text x="502.30" y="95.30" font-size="3.4" fill="#222" text-anchor="middle" font-family='"Liberation Sans", sans-serif' font-weight="bold" >4.5</text>
<line x1="417.50" y1="90.90" x2="419.00" y2="90.90" stroke="#444" stroke-width="0.5" />
<text x="415.60" y="92.10" font-size="3.4" fill="#222" text-anchor="end" font-family='"Liberation Sans", sans-serif' font-weight="bold" >-0.2</text>
<line x1="417.50" y1="83.30" x2="419.00" y2="83.30" stroke="#444" stroke-width="0.5" />
<text x="415.60" y="84.50" font-size="3.4" fill="#222" text-anchor="end" font-family='"Liberation Sans", sans-serif' font-weight="bold" >-0.1</text>
<line x1="417.50" y1="75.70" x2="419.00" y2="75.70" stroke="#444" stroke-width="0.5" />
<text x="415.60" y="76.90" font-size="3.4" fill="#222" text-anchor="end" font-family='"Liberation Sans", sans-serif' font-weight="bold" >0</text>
<line x1="417.50" y1="68.10" x2="419.00" y2="68.10" stroke="#444" stroke-width="0.5" />
<text x="415.60" y="69.30" font-size="3.4" fill="#222" text-anchor="end" font-family='"Liberation Sans", sans-serif' font-weight="bold" >0.1</text>
<line x1="417.50" y1="60.50" x2="419.00" y2="60.50" stroke="#444" stroke-width="0.5" />
<text x="415.60" y="61.70" font-size="3.4" fill="#222" text-anchor="end" font-family='"Liberation Sans", sans-serif' font-weight="bold" >0.2</text>
<line x1="417.50" y1="52.90" x2="419.00" y2="52.90" stroke="#444" stroke-width="0.5" />
<text x="415.60" y="54.10" font-size="3.4" fill="#222" text-anchor="end" font-family='"Liberation Sans", sans-serif' font-weight="bold" >0.3</text>
<line x1="417.50" y1="45.30" x2="419.00" y2="45.30" stroke="#444" stroke-width="0.5" />
<text x="415.60" y="46.50" font-size="3.4" fill="#222" text-anchor="end" font-family='"Liberation Sans", sans-serif' font-weight="bold" >0.4</text>
<line x1="417.50" y1="37.70" x2="419.00" y2="37.70" stroke="#444" stroke-width="0.5" />
<text x="415.60" y="38.90" font-size="3.4" fill="#222" text-anchor="end" font-family='"Liberation Sans", sans-serif' font-weight="bold" >0.5</text>
<line x1="417.50" y1="30.10" x2="419.00" y2="30.10" stroke="#444" stroke-width="0.5" />
<text x="415.60" y="31.30" font-size="3.4" fill="#222" text-anchor="end" font-family='"Liberation Sans", sans-serif' font-weight="bold" >0.6</text>
<line x1="417.50" y1="22.50" x2="419.00" y2="22.50" stroke="#444" stroke-width="0.5" />
<text x="415.60" y="23.70" font-size="3.4" fill="#222" text-anchor="end" font-family='"Liberation Sans", sans-serif' font-weight="bold" >0.7</text>
<line x1="417.50" y1="14.90" x2="419.00" y2="14.90" stroke="#444" stroke-width="0.5" />
<text x="415.60" y="16.10" font-size="3.4" fill="#222" text-anchor="end" font-family='"Liberation Sans", sans-serif' font-weight="bold" >0.8</text>
<text x="461.20" y="100.80" font-size="5.0" fill="#333" text-anchor="middle" font-family='"Liberation Sans", sans-serif' font-weight="normal" >k [-]</text>
<text x="408.00" y="49.50" font-size="6.0" fill="#222" text-anchor="middle" font-family='"Liberation Sans", sans-serif' font-weight="normal" transform="rotate(-90 408.0 49.5)" >C<tspan font-size="3.8" dy="1">p</tspan><tspan dy="-1"> [-]</tspan></text>
<text x="369.00" y="95.30" font-size="10" fill="#111" text-anchor="start" font-family='"Liberation Serif", serif' font-weight="bold" >(g)</text>
<polyline points="417.60,74.40 439.90,68.90 450.40,57.80 457.30,43.90 463.60,27.60 475.00,9.00 503.00,32.60" stroke="#222" stroke-width="1.2" fill="none" stroke-linejoin="round" />
<circle cx="417.60" cy="74.40" r="1.5" fill="#222" stroke="none" stroke-width="1"/>
<circle cx="439.90" cy="68.90" r="1.5" fill="#222" stroke="none" stroke-width="1"/>
<circle cx="450.40" cy="57.80" r="1.5" fill="#222" stroke="none" stroke-width="1"/>
<circle cx="457.30" cy="43.90" r="1.5" fill="#222" stroke="none" stroke-width="1"/>
<circle cx="463.60" cy="27.60" r="1.5" fill="#222" stroke="none" stroke-width="1"/>
<circle cx="475.00" cy="9.00" r="1.5" fill="#222" stroke="none" stroke-width="1"/>
<circle cx="503.00" cy="32.60" r="1.5" fill="#222" stroke="none" stroke-width="1"/>
<path d="M462.00,49.00L464.00,51.00M462.00,51.00L464.00,49.00" stroke="#d02040" stroke-width="0.8"/>
<path d="M473.50,50.00L475.50,52.00M473.50,52.00L475.50,50.00" stroke="#d02040" stroke-width="0.8"/>
<path d="M501.80,83.00L503.80,85.00M501.80,85.00L503.80,83.00" stroke="#d02040" stroke-width="0.8"/>
<line x1="425.70" y1="80.40" x2="438.20" y2="80.40" stroke="#222" stroke-width="1.2" />
<circle cx="432.00" cy="80.40" r="1.5" fill="#222" stroke="none" stroke-width="1"/>
<path d="M431.40,83.40L433.40,85.40M431.40,85.40L433.40,83.40" stroke="#d02040" stroke-width="0.8"/>
<text x="442.40" y="81.60" font-size="3.3" fill="#222" text-anchor="start" font-family='"Liberation Sans", sans-serif' font-weight="bold" >2D URANS Simulation</text>
<text x="442.40" y="85.60" font-size="3.3" fill="#222" text-anchor="start" font-family='"Liberation Sans", sans-serif' font-weight="bold" >3D URANS Simulation</text>
<rect x="417.60" y="102.60" width="86.80" height="79.60" stroke="#666" stroke-width="0.7" fill="none" />
<line x1="417.60" y1="182.20" x2="417.60" y2="180.70" stroke="#444" stroke-width="0.5" />
<text x="417.60" y="187.40" font-size="3.4" fill="#222" text-anchor="middle" font-family='"Liberation Sans", sans-serif' font-weight="bold" >0.5</text>
<line x1="434.40" y1="182.20" x2="434.40" y2="180.70" stroke="#444" stroke-width="0.5" />
<text x="434.40" y="187.40" font-size="3.4" fill="#222" text-anchor="middle" font-family='"Liberation Sans", sans-serif' font-weight="bold" >1</text>
<line x1="451.20" y1="182.20" x2="451.20" y2="180.70" stroke="#444" stroke-width="0.5" />
<text x="451.20" y="187.40" font-size="3.4" fill="#222" text-anchor="middle" font-family='"Liberation Sans", sans-serif' font-weight="bold" >1.5</text>
<line x1="468.00" y1="182.20" x2="468.00" y2="180.70" stroke="#444" stroke-width="0.5" />
<text x="468.00" y="187.40" font-size="3.4" fill="#222" text-anchor="middle" font-family='"Liberation Sans", sans-serif' font-weight="bold" >2</text>
<line x1="484.80" y1="182.20" x2="484.80" y2="180.70" stroke="#444" stroke-width="0.5" />
<text x="484.80" y="187.40" font-size="3.4" fill="#222" text-anchor="middle" font-family='"Liberation Sans", sans-serif' font-weight="bold" >2.5</text>
<line x1="501.60" y1="182.20" x2="501.60" y2="180.70" stroke="#444" stroke-width="0.5" />
<text x="501.60" y="187.40" font-size="3.4" fill="#222" text-anchor="middle" font-family='"Liberation Sans", sans-serif' font-weight="bold" >3</text>
<line x1="417.60" y1="182.30" x2="419.10" y2="182.30" stroke="#444" stroke-width="0.5" />
<text x="415.60" y="183.50" font-size="3.4" fill="#222" text-anchor="end" font-family='"Liberation Sans", sans-serif' font-weight="bold" >0</text>
<line x1="417.60" y1="165.10" x2="419.10" y2="165.10" stroke="#444" stroke-width="0.5" />
<text x="415.60" y="166.30" font-size="3.4" fill="#222" text-anchor="end" font-family='"Liberation Sans", sans-serif' font-weight="bold" >0.05</text>
<line x1="417.60" y1="147.90" x2="419.10" y2="147.90" stroke="#444" stroke-width="0.5" />
<text x="415.60" y="149.10" font-size="3.4" fill="#222" text-anchor="end" font-family='"Liberation Sans", sans-serif' font-weight="bold" >0.1</text>
<line x1="417.60" y1="130.70" x2="419.10" y2="130.70" stroke="#444" stroke-width="0.5" />
<text x="415.60" y="131.90" font-size="3.4" fill="#222" text-anchor="end" font-family='"Liberation Sans", sans-serif' font-weight="bold" >0.15</text>
<line x1="417.60" y1="113.50" x2="419.10" y2="113.50" stroke="#444" stroke-width="0.5" />
<text x="415.60" y="114.70" font-size="3.4" fill="#222" text-anchor="end" font-family='"Liberation Sans", sans-serif' font-weight="bold" >0.2</text>
<text x="462.50" y="191.80" font-size="4.2" fill="#333" text-anchor="middle" font-family='"Liberation Sans", sans-serif' font-weight="normal" >k [-]</text>
<text x="407.60" y="142.00" font-size="5.2" fill="#222" text-anchor="middle" font-family='"Liberation Sans", sans-serif' font-weight="normal" transform="rotate(-90 407.6 142)" >C<tspan font-size="3.3" dy="1">p</tspan><tspan dy="-1"> [-]</tspan></text>
<text x="370.00" y="186.10" font-size="10" fill="#111" text-anchor="start" font-family='"Liberation Serif", serif' font-weight="bold" >(h)</text>
<polyline points="425.60,173.60 434.60,169.40 442.60,160.00 451.00,146.00 459.40,131.00 468.00,117.60 474.00,110.00 484.40,122.00 492.40,133.60" stroke="#6262e6" stroke-width="1.25" fill="none" stroke-dasharray="2.6 1.1" stroke-linejoin="round" />
<polygon points="425.60,172.10 424.30,173.60 425.60,175.10 426.90,173.60" fill="#3a3ad8"/>
<polygon points="434.60,167.90 433.30,169.40 434.60,170.90 435.90,169.40" fill="#3a3ad8"/>
<polygon points="442.60,158.50 441.30,160.00 442.60,161.50 443.90,160.00" fill="#3a3ad8"/>
<polygon points="451.00,144.50 449.70,146.00 451.00,147.50 452.30,146.00" fill="#3a3ad8"/>
<polygon points="459.40,129.50 458.10,131.00 459.40,132.50 460.70,131.00" fill="#3a3ad8"/>
<polygon points="468.00,116.10 466.70,117.60 468.00,119.10 469.30,117.60" fill="#3a3ad8"/>
<polygon points="474.00,108.50 472.70,110.00 474.00,111.50 475.30,110.00" fill="#3a3ad8"/>
<polygon points="484.40,120.50 483.10,122.00 484.40,123.50 485.70,122.00" fill="#3a3ad8"/>
<polygon points="492.40,132.10 491.10,133.60 492.40,135.10 493.70,133.60" fill="#3a3ad8"/>
<rect x="424.9" y="171.6" width="2.2" height="4" rx="0.6" fill="#444"/>
<polygon points="474.00,107.00 472.70,109.40 475.30,109.40" fill="#333"/>
<polygon points="492.40,130.90 491.10,133.30 493.70,133.30" fill="#333"/>
<circle cx="474.00" cy="115.00" r="1.9" fill="none" stroke="#d83030" stroke-width="0.7"/>
<circle cx="492.40" cy="141.00" r="1.9" fill="none" stroke="#d83030" stroke-width="0.7"/>
<line x1="440.00" y1="167.60" x2="453.00" y2="167.60" stroke="#5a5ae6" stroke-width="1.3" stroke-dasharray="2.6 1.1" />
<polygon points="446.40,166.10 445.10,167.60 446.40,169.10 447.70,167.60" fill="#3a3ad8"/>
<polygon points="446.40,169.60 445.10,172.00 447.70,172.00" fill="#333"/>
<circle cx="446.40" cy="175.00" r="1.6" fill="none" stroke="#b87040" stroke-width="0.8"/>
<text x="456.00" y="168.70" font-size="3.0" fill="#222" text-anchor="start" font-family='"Liberation Sans", sans-serif' font-weight="bold" >Wind tunnel experimental Results</text>
<text x="456.00" y="172.30" font-size="3.0" fill="#222" text-anchor="start" font-family='"Liberation Sans", sans-serif' font-weight="bold" >Wind tunnel DDES Simulation</text>
<text x="456.00" y="176.10" font-size="3.0" fill="#222" text-anchor="start" font-family='"Liberation Sans", sans-serif' font-weight="bold" >Wind tunnel URANS Simulation</text>
<line x1="408.30" y1="194.30" x2="408.30" y2="296.30" stroke="#e2e2e2" stroke-width="0.7" />
<line x1="430.20" y1="194.30" x2="430.20" y2="296.30" stroke="#e2e2e2" stroke-width="0.7" />
<line x1="452.10" y1="194.30" x2="452.10" y2="296.30" stroke="#e2e2e2" stroke-width="0.7" />
<line x1="474.00" y1="194.30" x2="474.00" y2="296.30" stroke="#e2e2e2" stroke-width="0.7" />
<line x1="495.90" y1="194.30" x2="495.90" y2="296.30" stroke="#e2e2e2" stroke-width="0.7" />
<line x1="517.80" y1="194.30" x2="517.80" y2="296.30" stroke="#e2e2e2" stroke-width="0.7" />
<line x1="386.20" y1="287.20" x2="540.10" y2="287.20" stroke="#e2e2e2" stroke-width="0.7" />
<line x1="386.20" y1="266.60" x2="540.10" y2="266.60" stroke="#e2e2e2" stroke-width="0.7" />
<line x1="386.20" y1="246.00" x2="540.10" y2="246.00" stroke="#e2e2e2" stroke-width="0.7" />
<line x1="386.20" y1="225.40" x2="540.10" y2="225.40" stroke="#e2e2e2" stroke-width="0.7" />
<line x1="386.20" y1="204.80" x2="540.10" y2="204.80" stroke="#e2e2e2" stroke-width="0.7" />
<rect x="386.20" y="194.30" width="153.90" height="102.00" stroke="#c8c8c8" stroke-width="0.8" fill="none" />
<text x="384.00" y="289.20" font-size="5.6" fill="#333" text-anchor="end" font-family='"Liberation Sans", sans-serif' font-weight="normal" >−0.1</text>
<text x="384.00" y="268.60" font-size="5.6" fill="#333" text-anchor="end" font-family='"Liberation Sans", sans-serif' font-weight="normal" >0.0</text>
<text x="384.00" y="248.00" font-size="5.6" fill="#333" text-anchor="end" font-family='"Liberation Sans", sans-serif' font-weight="normal" >0.1</text>
<text x="384.00" y="227.40" font-size="5.6" fill="#333" text-anchor="end" font-family='"Liberation Sans", sans-serif' font-weight="normal" >0.2</text>
<text x="384.00" y="206.80" font-size="5.6" fill="#333" text-anchor="end" font-family='"Liberation Sans", sans-serif' font-weight="normal" >0.3</text>
<text x="386.40" y="302.00" font-size="5.6" fill="#333" text-anchor="middle" font-family='"Liberation Sans", sans-serif' font-weight="normal" >0.0</text>
<text x="408.30" y="302.00" font-size="5.6" fill="#333" text-anchor="middle" font-family='"Liberation Sans", sans-serif' font-weight="normal" >0.5</text>
<text x="430.20" y="302.00" font-size="5.6" fill="#333" text-anchor="middle" font-family='"Liberation Sans", sans-serif' font-weight="normal" >1.0</text>
<text x="452.10" y="302.00" font-size="5.6" fill="#333" text-anchor="middle" font-family='"Liberation Sans", sans-serif' font-weight="normal" >1.5</text>
<text x="474.00" y="302.00" font-size="5.6" fill="#333" text-anchor="middle" font-family='"Liberation Sans", sans-serif' font-weight="normal" >2.0</text>
<text x="495.90" y="302.00" font-size="5.6" fill="#333" text-anchor="middle" font-family='"Liberation Sans", sans-serif' font-weight="normal" >2.5</text>
<text x="517.80" y="302.00" font-size="5.6" fill="#333" text-anchor="middle" font-family='"Liberation Sans", sans-serif' font-weight="normal" >3.0</text>
<text x="463.00" y="294.40" font-size="7" fill="#333" text-anchor="middle" font-family='"Liberation Sans", sans-serif' font-weight="normal" >λ</text>
<text x="391.20" y="245.00" font-size="5.6" fill="#333" text-anchor="middle" font-family='"Liberation Sans", sans-serif' font-weight="normal" transform="rotate(-90 391.2 245)" >Cp</text>
<text x="369.20" y="303.20" font-size="10" fill="#111" text-anchor="start" font-family='"Liberation Serif", serif' font-weight="bold" >(i)</text>
<polyline points="397.35,264.54 408.30,262.48 419.25,255.27 430.20,243.53 441.15,226.64 452.10,219.01 463.05,216.75 474.00,217.78 484.95,228.49 495.90,242.50 506.85,258.77 517.80,273.60 528.75,290.08" stroke="#707070" stroke-width="1.0" fill="none" stroke-linejoin="round" />
<circle cx="397.35" cy="264.54" r="0.9" fill="#555" stroke="none" stroke-width="1"/>
<circle cx="408.30" cy="262.48" r="0.9" fill="#555" stroke="none" stroke-width="1"/>
<circle cx="419.25" cy="255.27" r="0.9" fill="#555" stroke="none" stroke-width="1"/>
<circle cx="430.20" cy="243.53" r="0.9" fill="#555" stroke="none" stroke-width="1"/>
<polyline points="397.35,264.54 408.30,262.48 419.25,255.27 430.20,243.53 441.15,225.81 452.10,217.98 463.05,215.72 474.00,216.75 484.95,227.46 495.90,241.88 506.85,257.95 517.80,272.37 528.75,288.44" stroke="#9a7050" stroke-width="1.0" fill="none" stroke-linejoin="round" />
<circle cx="397.35" cy="264.54" r="0.9" fill="#555" stroke="none" stroke-width="1"/>
<circle cx="408.30" cy="262.48" r="0.9" fill="#555" stroke="none" stroke-width="1"/>
<circle cx="419.25" cy="255.27" r="0.9" fill="#555" stroke="none" stroke-width="1"/>
<circle cx="430.20" cy="243.53" r="0.9" fill="#555" stroke="none" stroke-width="1"/>
<polyline points="397.35,264.54 408.30,262.48 419.25,255.27 430.20,243.53 441.15,228.28 452.10,221.28 463.05,219.84 474.00,221.28 484.95,230.76 495.90,243.53 506.85,259.60 517.80,275.66 528.75,295.03" stroke="#6a5ad8" stroke-width="1.1" fill="none" stroke-linejoin="round" />
<circle cx="397.35" cy="264.54" r="0.9" fill="#555" stroke="none" stroke-width="1"/>
<circle cx="408.30" cy="262.48" r="0.9" fill="#555" stroke="none" stroke-width="1"/>
<circle cx="419.25" cy="255.27" r="0.9" fill="#555" stroke="none" stroke-width="1"/>
<circle cx="430.20" cy="243.53" r="0.9" fill="#555" stroke="none" stroke-width="1"/>
<line x1="408.30" y1="263.72" x2="408.30" y2="261.24" stroke="#6a6a6a" stroke-width="0.75" />
<line x1="419.25" y1="257.33" x2="419.25" y2="253.21" stroke="#6a6a6a" stroke-width="0.75" />
<line x1="430.20" y1="249.09" x2="430.20" y2="237.97" stroke="#6a6a6a" stroke-width="0.75" />
<line x1="441.15" y1="234.67" x2="441.15" y2="220.25" stroke="#6a6a6a" stroke-width="0.75" />
<line x1="452.10" y1="226.43" x2="452.10" y2="212.83" stroke="#6a6a6a" stroke-width="0.75" />
<line x1="463.05" y1="227.05" x2="463.05" y2="208.51" stroke="#6a6a6a" stroke-width="0.75" />
<line x1="474.00" y1="227.05" x2="474.00" y2="210.57" stroke="#6a6a6a" stroke-width="0.75" />
<line x1="484.95" y1="236.32" x2="484.95" y2="221.90" stroke="#6a6a6a" stroke-width="0.75" />
<line x1="495.90" y1="248.88" x2="495.90" y2="236.52" stroke="#6a6a6a" stroke-width="0.75" />
<line x1="506.85" y1="264.95" x2="506.85" y2="252.59" stroke="#6a6a6a" stroke-width="0.75" />
<line x1="517.80" y1="278.14" x2="517.80" y2="269.90" stroke="#6a6a6a" stroke-width="0.75" />
<rect x="428.60" y="242.34" width="3.2" height="3.2" fill="#2e5a10"/>
<rect x="451.38" y="215.56" width="3.2" height="3.2" fill="#2e5a10"/>
<rect x="472.40" y="211.44" width="3.2" height="3.2" fill="#2e5a10"/>
<rect x="498.68" y="243.58" width="3.2" height="3.2" fill="#2e5a10"/>
<rect x="517.08" y="275.71" width="3.2" height="3.2" fill="#2e5a10"/>
<line x1="389.40" y1="276.80" x2="399.40" y2="276.80" stroke="#7060d8" stroke-width="0.7" />
<line x1="394.40" y1="274.30" x2="394.40" y2="279.30" stroke="#7060d8" stroke-width="0.7" />
<text x="404.00" y="278.80" font-size="5.6" fill="#333" text-anchor="start" font-family='"Liberation Sans", sans-serif' font-weight="normal" >Cp_exp U1.8m/s</text>
<line x1="389.40" y1="284.30" x2="399.40" y2="284.30" stroke="#c08a50" stroke-width="0.7" />
<line x1="394.40" y1="281.80" x2="394.40" y2="286.80" stroke="#c08a50" stroke-width="0.7" />
<text x="404.00" y="286.30" font-size="5.6" fill="#333" text-anchor="start" font-family='"Liberation Sans", sans-serif' font-weight="normal" >Cp_exp U2.3m/s</text>
<line x1="456.20" y1="276.60" x2="466.20" y2="276.60" stroke="#777" stroke-width="0.7" />
<line x1="461.20" y1="274.10" x2="461.20" y2="279.10" stroke="#777" stroke-width="0.7" />
<text x="470.80" y="278.60" font-size="5.6" fill="#333" text-anchor="start" font-family='"Liberation Sans", sans-serif' font-weight="normal" >Cp_exp U2.8m/s</text>
<rect x="459.2" y="282.6" width="3" height="3" fill="#2e5a10"/>
<text x="470.80" y="286.30" font-size="5.6" fill="#333" text-anchor="start" font-family='"Liberation Sans", sans-serif' font-weight="normal" >Cp URANS</text>
</svg>
</body></html>
